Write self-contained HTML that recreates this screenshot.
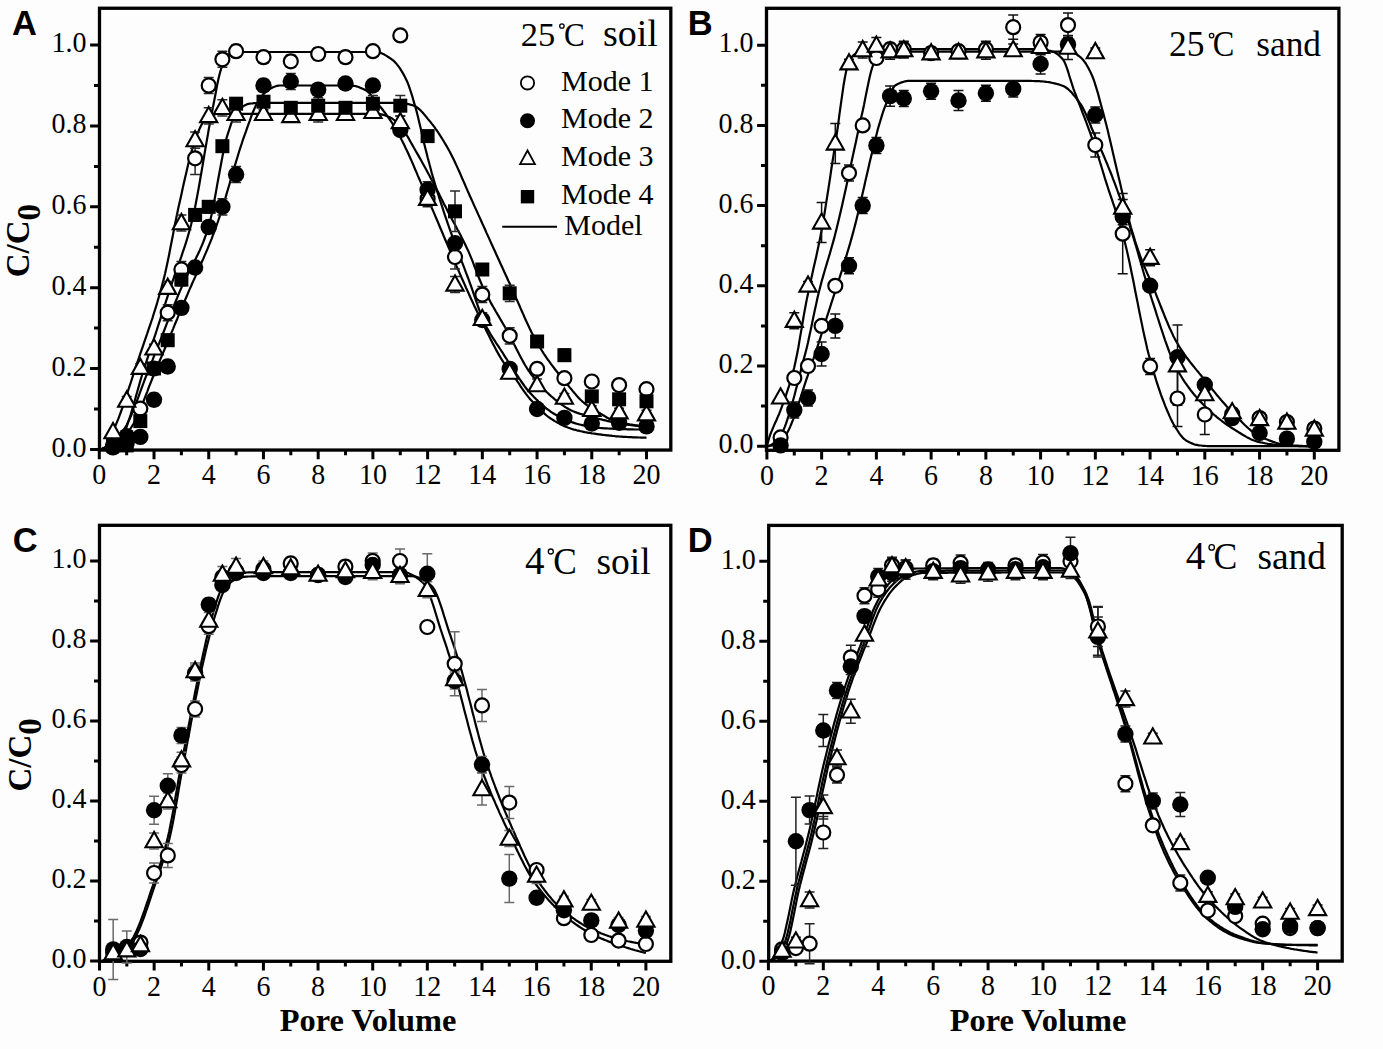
<!DOCTYPE html>
<html><head><meta charset="utf-8"><title>Breakthrough curves</title>
<style>html,body{margin:0;padding:0;background:#fdfdfd;}svg{display:block;}</style></head>
<body><svg width="1383" height="1049" viewBox="0 0 1383 1049">
<rect width="1383" height="1049" fill="#fdfdfd"/>
<rect x="99.50" y="8.25" width="571.30" height="441.80" fill="none" stroke="#000" stroke-width="3.3"/>
<path d="M99.30 450.05V459.25M126.66 450.05V455.15M154.02 450.05V459.25M181.38 450.05V455.15M208.74 450.05V459.25M236.10 450.05V455.15M263.46 450.05V459.25M290.82 450.05V455.15M318.18 450.05V459.25M345.54 450.05V455.15M372.90 450.05V459.25M400.26 450.05V455.15M427.62 450.05V459.25M454.98 450.05V455.15M482.34 450.05V459.25M509.70 450.05V455.15M537.06 450.05V459.25M564.42 450.05V455.15M591.78 450.05V459.25M619.14 450.05V455.15M646.50 450.05V459.25M99.50 449.40H90.10M99.50 408.97H94.00M99.50 368.54H90.10M99.50 328.11H94.00M99.50 287.68H90.10M99.50 247.25H94.00M99.50 206.82H90.10M99.50 166.39H94.00M99.50 125.96H90.10M99.50 85.53H94.00M99.50 45.10H90.10" stroke="#000" stroke-width="3" fill="none"/>
<g font-family='"Liberation Serif", serif' font-size="29.8" fill="#000"><text transform="translate(99.3 484.4) scale(0.94 1)" text-anchor="middle">0</text><text transform="translate(154.0 484.4) scale(0.94 1)" text-anchor="middle">2</text><text transform="translate(208.7 484.4) scale(0.94 1)" text-anchor="middle">4</text><text transform="translate(263.5 484.4) scale(0.94 1)" text-anchor="middle">6</text><text transform="translate(318.2 484.4) scale(0.94 1)" text-anchor="middle">8</text><text transform="translate(372.9 484.4) scale(0.94 1)" text-anchor="middle">10</text><text transform="translate(427.6 484.4) scale(0.94 1)" text-anchor="middle">12</text><text transform="translate(482.3 484.4) scale(0.94 1)" text-anchor="middle">14</text><text transform="translate(537.1 484.4) scale(0.94 1)" text-anchor="middle">16</text><text transform="translate(591.8 484.4) scale(0.94 1)" text-anchor="middle">18</text><text transform="translate(646.5 484.4) scale(0.94 1)" text-anchor="middle">20</text><text transform="translate(86.5 456.6) scale(0.94 1)" text-anchor="end">0.0</text><text transform="translate(86.5 375.7) scale(0.94 1)" text-anchor="end">0.2</text><text transform="translate(86.5 294.9) scale(0.94 1)" text-anchor="end">0.4</text><text transform="translate(86.5 214.0) scale(0.94 1)" text-anchor="end">0.6</text><text transform="translate(86.5 133.2) scale(0.94 1)" text-anchor="end">0.8</text><text transform="translate(86.5 52.3) scale(0.94 1)" text-anchor="end">1.0</text></g>
<g stroke="#000" stroke-width="2.2" fill="none" stroke-linejoin="round"><path d="M99.3 449.4 L100.7 449.3 L102.0 449.2 L103.4 448.9 L104.8 448.6 L106.1 448.2 L107.5 447.6 L108.9 447.0 L110.2 446.4 L111.6 445.7 L113.0 444.9 L114.3 444.1 L115.7 443.2 L117.1 442.3 L118.5 441.3 L119.8 440.1 L121.2 438.3 L122.6 436.0 L123.9 433.2 L125.3 430.1 L126.7 426.6 L128.0 422.7 L129.4 418.6 L130.8 414.3 L132.1 409.7 L133.5 405.0 L134.9 400.2 L136.2 395.4 L137.6 390.5 L139.0 385.6 L140.3 380.9 L141.7 376.2 L143.1 371.7 L144.4 367.4 L145.8 363.3 L147.2 359.2 L148.5 355.1 L149.9 351.0 L151.3 346.8 L152.7 342.7 L154.0 338.5 L155.4 334.3 L156.8 330.0 L158.1 325.8 L159.5 321.6 L160.9 317.3 L162.2 313.1 L163.6 308.8 L165.0 304.6 L166.3 300.3 L167.7 296.1 L169.1 291.9 L170.4 287.7 L171.8 283.6 L173.2 279.5 L174.5 275.6 L175.9 271.8 L177.3 268.0 L178.6 264.1 L180.0 260.3 L181.4 256.4 L182.7 252.4 L184.1 248.3 L185.5 244.1 L186.9 239.7 L188.2 235.1 L189.6 230.2 L191.0 225.1 L192.3 219.7 L193.7 213.7 L195.1 207.2 L196.4 200.2 L197.8 192.9 L199.2 185.3 L200.5 177.5 L201.9 169.5 L203.3 161.4 L204.6 153.3 L206.0 145.3 L207.4 137.4 L208.7 129.6 L210.1 122.1 L211.5 115.0 L212.8 108.0 L214.2 100.8 L215.6 93.5 L216.9 86.3 L218.3 79.6 L219.7 73.7 L221.1 68.9 L222.4 65.2 L223.8 61.8 L225.2 58.9 L226.5 56.6 L227.9 55.2 L229.3 54.3 L230.6 53.5 L232.0 52.9 L233.4 52.4 L234.7 52.1 L236.1 52.0 L237.5 52.0 L238.8 52.0 L240.2 52.0 L241.6 52.0 L242.9 52.0 L244.3 52.0 L245.7 52.0 L247.0 52.0 L248.4 52.0 L249.8 52.0 L251.1 52.0 L252.5 52.0 L253.9 52.0 L255.3 52.0 L256.6 52.0 L258.0 52.0 L259.4 52.0 L260.7 52.0 L262.1 52.0 L263.5 52.0 L264.8 52.0 L266.2 52.0 L267.6 52.0 L268.9 52.0 L270.3 52.0 L271.7 52.0 L273.0 52.0 L274.4 52.0 L275.8 52.0 L277.1 52.0 L278.5 52.0 L279.9 52.0 L281.2 52.0 L282.6 52.0 L284.0 52.0 L285.3 52.0 L286.7 52.0 L288.1 52.0 L289.5 52.0 L290.8 52.0 L292.2 52.0 L293.6 52.0 L294.9 52.0 L296.3 52.0 L297.7 52.0 L299.0 52.0 L300.4 52.0 L301.8 52.0 L303.1 52.0 L304.5 52.0 L305.9 52.0 L307.2 52.0 L308.6 52.0 L310.0 52.0 L311.3 52.0 L312.7 52.0 L314.1 52.0 L315.4 52.0 L316.8 52.0 L318.2 52.0 L319.5 52.0 L320.9 52.0 L322.3 52.0 L323.7 52.0 L325.0 52.0 L326.4 52.0 L327.8 52.0 L329.1 52.0 L330.5 52.0 L331.9 52.0 L333.2 52.0 L334.6 52.0 L336.0 52.0 L337.3 52.0 L338.7 52.0 L340.1 52.0 L341.4 52.0 L342.8 52.0 L344.2 52.0 L345.5 52.0 L346.9 52.0 L348.3 52.0 L349.6 52.0 L351.0 52.0 L352.4 52.0 L353.7 52.0 L355.1 52.0 L356.5 52.0 L357.9 52.0 L359.2 52.0 L360.6 52.0 L362.0 52.0 L363.3 52.0 L364.7 52.0 L366.1 52.0 L367.4 52.0 L368.8 52.0 L370.2 52.0 L371.5 52.0 L372.9 52.0 L374.3 52.0 L375.6 52.0 L377.0 52.0 L378.4 52.3 L379.7 52.6 L381.1 53.1 L382.5 53.7 L383.8 54.3 L385.2 55.1 L386.6 55.9 L387.9 56.8 L389.3 57.7 L390.7 58.7 L392.1 59.7 L393.4 60.7 L394.8 61.9 L396.2 63.4 L397.5 65.1 L398.9 66.9 L400.3 68.9 L401.6 71.1 L403.0 73.4 L404.4 75.9 L405.7 78.5 L407.1 81.4 L408.5 84.8 L409.8 88.7 L411.2 92.9 L412.6 97.4 L413.9 102.1 L415.3 106.8 L416.7 111.7 L418.0 117.1 L419.4 122.9 L420.8 128.8 L422.1 134.8 L423.5 140.8 L424.9 146.5 L426.3 152.0 L427.6 157.3 L429.0 162.5 L430.4 167.7 L431.7 172.7 L433.1 177.6 L434.5 182.3 L435.8 186.8 L437.2 191.3 L438.6 195.7 L439.9 200.0 L441.3 204.2 L442.7 208.4 L444.0 212.5 L445.4 216.6 L446.8 220.6 L448.1 224.5 L449.5 228.5 L450.9 232.4 L452.2 236.2 L453.6 240.0 L455.0 243.7 L456.3 247.4 L457.7 251.0 L459.1 254.6 L460.5 258.2 L461.8 261.7 L463.2 265.2 L464.6 268.8 L465.9 272.4 L467.3 276.0 L468.7 279.6 L470.0 283.3 L471.4 287.2 L472.8 291.2 L474.1 295.1 L475.5 299.2 L476.9 303.1 L478.2 307.0 L479.6 310.8 L481.0 314.5 L482.3 317.9 L483.7 321.1 L485.1 324.1 L486.4 326.8 L487.8 329.4 L489.2 331.8 L490.5 334.1 L491.9 336.4 L493.3 338.6 L494.7 340.7 L496.0 342.8 L497.4 344.8 L498.8 346.9 L500.1 349.0 L501.5 351.1 L502.9 353.2 L504.2 355.4 L505.6 357.6 L507.0 359.7 L508.3 361.9 L509.7 364.0 L511.1 366.1 L512.4 368.1 L513.8 370.2 L515.2 372.2 L516.5 374.3 L517.9 376.4 L519.3 378.5 L520.6 380.5 L522.0 382.5 L523.4 384.5 L524.7 386.4 L526.1 388.2 L527.5 390.0 L528.9 391.6 L530.2 393.1 L531.6 394.5 L533.0 396.0 L534.3 397.4 L535.7 398.8 L537.1 400.1 L538.4 401.5 L539.8 402.7 L541.2 404.0 L542.5 405.2 L543.9 406.4 L545.3 407.5 L546.6 408.6 L548.0 409.7 L549.4 410.7 L550.7 411.7 L552.1 412.6 L553.5 413.5 L554.8 414.3 L556.2 415.0 L557.6 415.8 L558.9 416.5 L560.3 417.2 L561.7 417.8 L563.1 418.5 L564.4 419.1 L565.8 419.7 L567.2 420.3 L568.5 420.9 L569.9 421.4 L571.3 422.0 L572.6 422.4 L574.0 422.9 L575.4 423.4 L576.7 423.8 L578.1 424.2 L579.5 424.5 L580.8 424.8 L582.2 425.1 L583.6 425.4 L584.9 425.7 L586.3 425.9 L587.7 426.2 L589.0 426.4 L590.4 426.7 L591.8 426.9 L593.1 427.1 L594.5 427.3 L595.9 427.5 L597.3 427.7 L598.6 427.8 L600.0 428.0 L601.4 428.1 L602.7 428.2 L604.1 428.3 L605.5 428.4 L606.8 428.4 L608.2 428.5 L609.6 428.6 L610.9 428.6 L612.3 428.7 L613.7 428.8 L615.0 428.8 L616.4 428.9 L617.8 429.0 L619.1 429.0 L620.5 429.1 L621.9 429.1 L623.2 429.2 L624.6 429.2 L626.0 429.2 L627.3 429.3 L628.7 429.3 L630.1 429.4 L631.5 429.4 L632.8 429.4 L634.2 429.5 L635.6 429.5 L636.9 429.5 L638.3 429.5 L639.7 429.5 L641.0 429.6 L642.4 429.6 L643.8 429.6 L645.1 429.6 L646.5 429.6"/><path d="M99.3 449.4 L100.7 449.3 L102.0 449.2 L103.4 448.9 L104.8 448.5 L106.1 448.1 L107.5 447.5 L108.9 446.8 L110.2 446.1 L111.6 445.3 L113.0 444.5 L114.3 443.5 L115.7 442.5 L117.1 441.5 L118.5 440.4 L119.8 439.3 L121.2 438.1 L122.6 436.9 L123.9 435.7 L125.3 434.5 L126.7 433.2 L128.0 431.8 L129.4 430.1 L130.8 428.2 L132.1 426.0 L133.5 423.7 L134.9 421.1 L136.2 418.3 L137.6 415.3 L139.0 412.3 L140.3 409.1 L141.7 405.7 L143.1 402.3 L144.4 398.9 L145.8 395.3 L147.2 391.8 L148.5 388.2 L149.9 384.6 L151.3 381.1 L152.7 377.5 L154.0 374.1 L155.4 370.7 L156.8 367.4 L158.1 364.3 L159.5 361.1 L160.9 358.0 L162.2 354.8 L163.6 351.6 L165.0 348.3 L166.3 345.1 L167.7 341.8 L169.1 338.5 L170.4 335.2 L171.8 331.9 L173.2 328.6 L174.5 325.3 L175.9 322.0 L177.3 318.7 L178.6 315.4 L180.0 312.1 L181.4 308.8 L182.7 305.5 L184.1 302.3 L185.5 299.0 L186.9 295.8 L188.2 292.6 L189.6 289.4 L191.0 286.3 L192.3 283.2 L193.7 280.1 L195.1 277.1 L196.4 274.0 L197.8 271.0 L199.2 268.0 L200.5 264.9 L201.9 261.8 L203.3 258.7 L204.6 255.6 L206.0 252.4 L207.4 249.2 L208.7 245.9 L210.1 242.6 L211.5 239.1 L212.8 235.6 L214.2 232.1 L215.6 228.4 L216.9 224.5 L218.3 220.5 L219.7 216.4 L221.1 212.1 L222.4 207.7 L223.8 203.3 L225.2 198.7 L226.5 194.1 L227.9 189.5 L229.3 184.8 L230.6 180.1 L232.0 175.4 L233.4 170.7 L234.7 166.1 L236.1 161.5 L237.5 157.0 L238.8 152.5 L240.2 148.2 L241.6 144.0 L242.9 139.9 L244.3 135.9 L245.7 132.1 L247.0 128.3 L248.4 124.4 L249.8 120.6 L251.1 116.8 L252.5 113.2 L253.9 109.9 L255.3 106.8 L256.6 104.0 L258.0 101.7 L259.4 99.6 L260.7 97.7 L262.1 95.8 L263.5 94.2 L264.8 92.7 L266.2 91.4 L267.6 90.3 L268.9 89.4 L270.3 88.7 L271.7 87.9 L273.0 87.3 L274.4 86.7 L275.8 86.2 L277.1 85.8 L278.5 85.6 L279.9 85.5 L281.2 85.5 L282.6 85.5 L284.0 85.5 L285.3 85.5 L286.7 85.5 L288.1 85.5 L289.5 85.5 L290.8 85.5 L292.2 85.5 L293.6 85.5 L294.9 85.5 L296.3 85.5 L297.7 85.5 L299.0 85.5 L300.4 85.5 L301.8 85.5 L303.1 85.5 L304.5 85.5 L305.9 85.5 L307.2 85.5 L308.6 85.5 L310.0 85.5 L311.3 85.5 L312.7 85.5 L314.1 85.5 L315.4 85.5 L316.8 85.5 L318.2 85.5 L319.5 85.5 L320.9 85.5 L322.3 85.5 L323.7 85.5 L325.0 85.5 L326.4 85.5 L327.8 85.5 L329.1 85.5 L330.5 85.5 L331.9 85.5 L333.2 85.5 L334.6 85.5 L336.0 85.5 L337.3 85.5 L338.7 85.5 L340.1 85.5 L341.4 85.5 L342.8 85.5 L344.2 85.5 L345.5 85.5 L346.9 85.5 L348.3 85.5 L349.6 85.5 L351.0 85.5 L352.4 85.6 L353.7 85.8 L355.1 86.0 L356.5 86.4 L357.9 86.8 L359.2 87.3 L360.6 87.9 L362.0 88.5 L363.3 89.1 L364.7 89.8 L366.1 90.5 L367.4 91.5 L368.8 92.6 L370.2 94.1 L371.5 95.6 L372.9 97.3 L374.3 99.1 L375.6 100.9 L377.0 102.6 L378.4 104.3 L379.7 106.0 L381.1 107.7 L382.5 109.5 L383.8 111.3 L385.2 113.1 L386.6 115.0 L387.9 116.9 L389.3 118.9 L390.7 120.9 L392.1 123.0 L393.4 125.1 L394.8 127.3 L396.2 129.5 L397.5 131.9 L398.9 134.4 L400.3 137.0 L401.6 139.7 L403.0 142.4 L404.4 145.3 L405.7 148.2 L407.1 151.1 L408.5 154.0 L409.8 157.0 L411.2 160.1 L412.6 163.2 L413.9 166.4 L415.3 169.7 L416.7 172.9 L418.0 176.1 L419.4 179.3 L420.8 182.4 L422.1 185.6 L423.5 188.7 L424.9 191.9 L426.3 195.0 L427.6 198.2 L429.0 201.3 L430.4 204.5 L431.7 207.7 L433.1 210.9 L434.5 214.1 L435.8 217.3 L437.2 220.5 L438.6 223.8 L439.9 227.0 L441.3 230.3 L442.7 233.5 L444.0 236.8 L445.4 240.0 L446.8 243.2 L448.1 246.4 L449.5 249.6 L450.9 252.8 L452.2 256.0 L453.6 259.2 L455.0 262.4 L456.3 265.6 L457.7 268.8 L459.1 271.9 L460.5 275.1 L461.8 278.2 L463.2 281.3 L464.6 284.4 L465.9 287.5 L467.3 290.5 L468.7 293.5 L470.0 296.5 L471.4 299.5 L472.8 302.5 L474.1 305.4 L475.5 308.3 L476.9 311.2 L478.2 314.1 L479.6 317.0 L481.0 319.8 L482.3 322.6 L483.7 325.4 L485.1 328.1 L486.4 330.8 L487.8 333.6 L489.2 336.3 L490.5 339.0 L491.9 341.7 L493.3 344.4 L494.7 347.0 L496.0 349.6 L497.4 352.1 L498.8 354.6 L500.1 356.9 L501.5 359.2 L502.9 361.3 L504.2 363.3 L505.6 365.2 L507.0 367.0 L508.3 368.8 L509.7 370.6 L511.1 372.4 L512.4 374.2 L513.8 376.1 L515.2 378.1 L516.5 380.1 L517.9 382.2 L519.3 384.2 L520.6 386.3 L522.0 388.3 L523.4 390.3 L524.7 392.2 L526.1 394.1 L527.5 395.9 L528.9 397.6 L530.2 399.2 L531.6 400.7 L533.0 402.2 L534.3 403.7 L535.7 405.2 L537.1 406.6 L538.4 408.0 L539.8 409.4 L541.2 410.7 L542.5 412.0 L543.9 413.2 L545.3 414.4 L546.6 415.5 L548.0 416.6 L549.4 417.6 L550.7 418.5 L552.1 419.4 L553.5 420.3 L554.8 421.1 L556.2 421.9 L557.6 422.7 L558.9 423.4 L560.3 424.2 L561.7 424.9 L563.1 425.5 L564.4 426.2 L565.8 426.8 L567.2 427.3 L568.5 427.8 L569.9 428.3 L571.3 428.8 L572.6 429.2 L574.0 429.6 L575.4 429.9 L576.7 430.3 L578.1 430.6 L579.5 430.9 L580.8 431.2 L582.2 431.5 L583.6 431.8 L584.9 432.1 L586.3 432.3 L587.7 432.6 L589.0 432.8 L590.4 433.0 L591.8 433.3 L593.1 433.5 L594.5 433.7 L595.9 433.9 L597.3 434.1 L598.6 434.3 L600.0 434.4 L601.4 434.6 L602.7 434.8 L604.1 435.0 L605.5 435.1 L606.8 435.3 L608.2 435.4 L609.6 435.6 L610.9 435.7 L612.3 435.9 L613.7 436.0 L615.0 436.2 L616.4 436.3 L617.8 436.4 L619.1 436.5 L620.5 436.6 L621.9 436.7 L623.2 436.8 L624.6 436.9 L626.0 436.9 L627.3 437.0 L628.7 437.1 L630.1 437.1 L631.5 437.2 L632.8 437.3 L634.2 437.3 L635.6 437.4 L636.9 437.4 L638.3 437.5 L639.7 437.5 L641.0 437.6 L642.4 437.6 L643.8 437.6 L645.1 437.7 L646.5 437.7"/><path d="M99.3 449.4 L100.7 449.2 L102.0 448.8 L103.4 448.1 L104.8 447.4 L106.1 446.2 L107.5 444.2 L108.9 441.7 L110.2 438.7 L111.6 435.4 L113.0 431.9 L114.3 428.5 L115.7 425.1 L117.1 421.8 L118.5 418.4 L119.8 414.8 L121.2 411.0 L122.6 407.2 L123.9 403.2 L125.3 399.2 L126.7 395.1 L128.0 390.9 L129.4 386.7 L130.8 382.5 L132.1 378.3 L133.5 374.1 L134.9 369.9 L136.2 365.7 L137.6 361.6 L139.0 357.6 L140.3 353.6 L141.7 349.6 L143.1 345.6 L144.4 341.7 L145.8 337.7 L147.2 333.7 L148.5 329.7 L149.9 325.6 L151.3 321.5 L152.7 317.3 L154.0 313.0 L155.4 308.6 L156.8 304.2 L158.1 299.5 L159.5 294.8 L160.9 289.9 L162.2 284.8 L163.6 279.6 L165.0 274.0 L166.3 267.9 L167.7 261.5 L169.1 254.7 L170.4 247.7 L171.8 240.7 L173.2 233.6 L174.5 226.5 L175.9 219.7 L177.3 213.1 L178.6 206.8 L180.0 200.7 L181.4 194.5 L182.7 188.3 L184.1 182.1 L185.5 176.1 L186.9 170.1 L188.2 164.3 L189.6 158.8 L191.0 153.5 L192.3 148.6 L193.7 144.2 L195.1 140.1 L196.4 136.4 L197.8 132.9 L199.2 129.6 L200.5 126.7 L201.9 124.1 L203.3 121.9 L204.6 119.9 L206.0 118.1 L207.4 116.7 L208.7 115.9 L210.1 115.4 L211.5 115.0 L212.8 114.7 L214.2 114.4 L215.6 114.1 L216.9 114.0 L218.3 113.9 L219.7 113.8 L221.1 113.8 L222.4 113.8 L223.8 113.8 L225.2 113.8 L226.5 113.8 L227.9 113.8 L229.3 113.8 L230.6 113.8 L232.0 113.8 L233.4 113.8 L234.7 113.8 L236.1 113.8 L237.5 113.8 L238.8 113.8 L240.2 113.8 L241.6 113.8 L242.9 113.8 L244.3 113.8 L245.7 113.8 L247.0 113.8 L248.4 113.8 L249.8 113.8 L251.1 113.8 L252.5 113.8 L253.9 113.8 L255.3 113.8 L256.6 113.8 L258.0 113.8 L259.4 113.8 L260.7 113.8 L262.1 113.8 L263.5 113.8 L264.8 113.8 L266.2 113.8 L267.6 113.8 L268.9 113.8 L270.3 113.8 L271.7 113.8 L273.0 113.8 L274.4 113.8 L275.8 113.8 L277.1 113.8 L278.5 113.8 L279.9 113.8 L281.2 113.8 L282.6 113.8 L284.0 113.8 L285.3 113.8 L286.7 113.8 L288.1 113.8 L289.5 113.8 L290.8 113.8 L292.2 113.8 L293.6 113.8 L294.9 113.8 L296.3 113.8 L297.7 113.8 L299.0 113.8 L300.4 113.8 L301.8 113.8 L303.1 113.8 L304.5 113.8 L305.9 113.8 L307.2 113.8 L308.6 113.8 L310.0 113.8 L311.3 113.8 L312.7 113.8 L314.1 113.8 L315.4 113.8 L316.8 113.8 L318.2 113.8 L319.5 113.8 L320.9 113.8 L322.3 113.8 L323.7 113.8 L325.0 113.8 L326.4 113.8 L327.8 113.8 L329.1 113.8 L330.5 113.8 L331.9 113.8 L333.2 113.8 L334.6 113.8 L336.0 113.8 L337.3 113.8 L338.7 113.8 L340.1 113.8 L341.4 113.8 L342.8 113.8 L344.2 113.8 L345.5 113.8 L346.9 113.8 L348.3 113.8 L349.6 113.8 L351.0 113.8 L352.4 113.8 L353.7 113.8 L355.1 113.8 L356.5 113.8 L357.9 113.8 L359.2 113.8 L360.6 113.8 L362.0 113.8 L363.3 113.8 L364.7 113.8 L366.1 113.8 L367.4 113.8 L368.8 113.8 L370.2 113.8 L371.5 113.8 L372.9 113.8 L374.3 113.8 L375.6 113.8 L377.0 113.8 L378.4 113.9 L379.7 114.0 L381.1 114.3 L382.5 114.6 L383.8 115.0 L385.2 115.5 L386.6 116.0 L387.9 116.5 L389.3 117.1 L390.7 117.7 L392.1 118.5 L393.4 119.5 L394.8 120.6 L396.2 121.8 L397.5 123.1 L398.9 124.5 L400.3 126.0 L401.6 127.5 L403.0 129.3 L404.4 131.3 L405.7 133.4 L407.1 135.7 L408.5 138.1 L409.8 140.5 L411.2 143.0 L412.6 145.4 L413.9 147.8 L415.3 150.2 L416.7 152.6 L418.0 154.9 L419.4 157.4 L420.8 159.8 L422.1 162.2 L423.5 164.7 L424.9 167.2 L426.3 169.7 L427.6 172.3 L429.0 174.8 L430.4 177.4 L431.7 179.9 L433.1 182.5 L434.5 185.1 L435.8 187.7 L437.2 190.4 L438.6 193.0 L439.9 195.7 L441.3 198.4 L442.7 201.2 L444.0 203.9 L445.4 206.6 L446.8 209.3 L448.1 211.9 L449.5 214.6 L450.9 217.1 L452.2 219.7 L453.6 222.3 L455.0 224.8 L456.3 227.3 L457.7 229.9 L459.1 232.5 L460.5 235.1 L461.8 237.7 L463.2 240.4 L464.6 243.2 L465.9 246.0 L467.3 248.9 L468.7 251.9 L470.0 255.1 L471.4 258.4 L472.8 261.9 L474.1 265.4 L475.5 269.0 L476.9 272.6 L478.2 276.1 L479.6 279.5 L481.0 282.8 L482.3 285.9 L483.7 288.8 L485.1 291.6 L486.4 294.3 L487.8 297.0 L489.2 299.6 L490.5 302.1 L491.9 304.6 L493.3 307.0 L494.7 309.4 L496.0 311.8 L497.4 314.1 L498.8 316.4 L500.1 318.8 L501.5 321.1 L502.9 323.5 L504.2 325.8 L505.6 328.2 L507.0 330.7 L508.3 333.2 L509.7 335.7 L511.1 338.3 L512.4 341.0 L513.8 343.7 L515.2 346.4 L516.5 349.1 L517.9 351.8 L519.3 354.4 L520.6 357.0 L522.0 359.6 L523.4 362.1 L524.7 364.5 L526.1 366.8 L527.5 369.0 L528.9 371.0 L530.2 373.0 L531.6 374.8 L533.0 376.6 L534.3 378.3 L535.7 380.0 L537.1 381.7 L538.4 383.3 L539.8 384.8 L541.2 386.4 L542.5 387.8 L543.9 389.3 L545.3 390.7 L546.6 392.0 L548.0 393.3 L549.4 394.6 L550.7 395.8 L552.1 397.0 L553.5 398.2 L554.8 399.3 L556.2 400.4 L557.6 401.5 L558.9 402.5 L560.3 403.6 L561.7 404.6 L563.1 405.5 L564.4 406.5 L565.8 407.4 L567.2 408.2 L568.5 409.0 L569.9 409.7 L571.3 410.4 L572.6 411.0 L574.0 411.6 L575.4 412.1 L576.7 412.6 L578.1 413.1 L579.5 413.6 L580.8 414.0 L582.2 414.4 L583.6 414.8 L584.9 415.2 L586.3 415.6 L587.7 416.0 L589.0 416.4 L590.4 416.7 L591.8 417.1 L593.1 417.4 L594.5 417.7 L595.9 418.1 L597.3 418.4 L598.6 418.7 L600.0 419.1 L601.4 419.4 L602.7 419.8 L604.1 420.1 L605.5 420.4 L606.8 420.8 L608.2 421.1 L609.6 421.4 L610.9 421.8 L612.3 422.1 L613.7 422.4 L615.0 422.7 L616.4 423.0 L617.8 423.2 L619.1 423.5 L620.5 423.7 L621.9 423.9 L623.2 424.1 L624.6 424.3 L626.0 424.5 L627.3 424.7 L628.7 424.8 L630.1 425.0 L631.5 425.2 L632.8 425.3 L634.2 425.5 L635.6 425.6 L636.9 425.7 L638.3 425.8 L639.7 426.0 L641.0 426.1 L642.4 426.2 L643.8 426.2 L645.1 426.3 L646.5 426.4"/><path d="M99.3 449.4 L100.7 449.2 L102.0 448.9 L103.4 448.4 L104.8 447.8 L106.1 447.1 L107.5 446.2 L108.9 445.2 L110.2 444.2 L111.6 443.0 L113.0 441.7 L114.3 440.4 L115.7 439.1 L117.1 437.7 L118.5 436.2 L119.8 434.7 L121.2 433.2 L122.6 431.6 L123.9 429.6 L125.3 427.4 L126.7 425.0 L128.0 422.3 L129.4 419.5 L130.8 416.4 L132.1 413.2 L133.5 409.8 L134.9 406.4 L136.2 402.8 L137.6 399.2 L139.0 395.4 L140.3 391.7 L141.7 387.9 L143.1 384.2 L144.4 380.5 L145.8 376.8 L147.2 373.2 L148.5 369.6 L149.9 366.2 L151.3 362.9 L152.7 359.6 L154.0 356.2 L155.4 352.8 L156.8 349.4 L158.1 345.9 L159.5 342.4 L160.9 338.9 L162.2 335.5 L163.6 332.0 L165.0 328.4 L166.3 324.9 L167.7 321.4 L169.1 318.0 L170.4 314.5 L171.8 311.0 L173.2 307.6 L174.5 304.2 L175.9 300.8 L177.3 297.5 L178.6 294.2 L180.0 290.9 L181.4 287.7 L182.7 284.6 L184.1 281.6 L185.5 278.7 L186.9 275.9 L188.2 273.2 L189.6 270.6 L191.0 268.0 L192.3 265.4 L193.7 262.7 L195.1 260.1 L196.4 257.3 L197.8 254.5 L199.2 251.6 L200.5 248.6 L201.9 245.4 L203.3 242.0 L204.6 238.5 L206.0 234.7 L207.4 230.7 L208.7 226.2 L210.1 220.9 L211.5 215.0 L212.8 208.4 L214.2 201.4 L215.6 194.0 L216.9 186.4 L218.3 178.8 L219.7 171.2 L221.1 163.8 L222.4 156.7 L223.8 150.0 L225.2 143.8 L226.5 138.3 L227.9 133.6 L229.3 129.4 L230.6 125.3 L232.0 121.4 L233.4 118.0 L234.7 115.1 L236.1 112.9 L237.5 111.3 L238.8 110.0 L240.2 108.7 L241.6 107.6 L242.9 106.5 L244.3 105.6 L245.7 104.9 L247.0 104.3 L248.4 103.9 L249.8 103.7 L251.1 103.5 L252.5 103.4 L253.9 103.2 L255.3 103.1 L256.6 103.0 L258.0 103.0 L259.4 102.9 L260.7 102.9 L262.1 102.9 L263.5 102.9 L264.8 102.9 L266.2 102.9 L267.6 102.9 L268.9 102.9 L270.3 102.9 L271.7 102.9 L273.0 102.9 L274.4 102.9 L275.8 102.9 L277.1 102.9 L278.5 102.9 L279.9 102.9 L281.2 102.9 L282.6 102.9 L284.0 102.9 L285.3 102.9 L286.7 102.9 L288.1 102.9 L289.5 102.9 L290.8 102.9 L292.2 102.9 L293.6 102.9 L294.9 102.9 L296.3 102.9 L297.7 102.9 L299.0 102.9 L300.4 102.9 L301.8 102.9 L303.1 102.9 L304.5 102.9 L305.9 102.9 L307.2 102.9 L308.6 102.9 L310.0 102.9 L311.3 102.9 L312.7 102.9 L314.1 102.9 L315.4 102.9 L316.8 102.9 L318.2 102.9 L319.5 102.9 L320.9 102.9 L322.3 102.9 L323.7 102.9 L325.0 102.9 L326.4 102.9 L327.8 102.9 L329.1 102.9 L330.5 102.9 L331.9 102.9 L333.2 102.9 L334.6 102.9 L336.0 102.9 L337.3 102.9 L338.7 102.9 L340.1 102.9 L341.4 102.9 L342.8 102.9 L344.2 102.9 L345.5 102.9 L346.9 102.9 L348.3 102.9 L349.6 102.9 L351.0 102.9 L352.4 102.9 L353.7 102.9 L355.1 102.9 L356.5 102.9 L357.9 102.9 L359.2 102.9 L360.6 102.9 L362.0 102.9 L363.3 102.9 L364.7 102.9 L366.1 102.9 L367.4 102.9 L368.8 102.9 L370.2 102.9 L371.5 102.9 L372.9 102.9 L374.3 102.9 L375.6 102.9 L377.0 102.9 L378.4 102.9 L379.7 102.9 L381.1 102.9 L382.5 102.9 L383.8 102.9 L385.2 102.9 L386.6 102.9 L387.9 102.9 L389.3 102.9 L390.7 102.9 L392.1 102.9 L393.4 102.9 L394.8 102.9 L396.2 102.9 L397.5 102.9 L398.9 102.9 L400.3 102.9 L401.6 103.0 L403.0 103.1 L404.4 103.2 L405.7 103.5 L407.1 103.8 L408.5 104.1 L409.8 104.5 L411.2 104.9 L412.6 105.3 L413.9 105.7 L415.3 106.3 L416.7 107.1 L418.0 108.1 L419.4 109.3 L420.8 110.6 L422.1 112.1 L423.5 113.6 L424.9 115.2 L426.3 116.9 L427.6 118.6 L429.0 120.3 L430.4 121.9 L431.7 123.6 L433.1 125.3 L434.5 127.2 L435.8 129.1 L437.2 131.0 L438.6 133.1 L439.9 135.1 L441.3 137.3 L442.7 139.5 L444.0 141.8 L445.4 144.1 L446.8 146.4 L448.1 148.8 L449.5 151.3 L450.9 153.9 L452.2 156.5 L453.6 159.3 L455.0 162.2 L456.3 165.1 L457.7 168.1 L459.1 171.2 L460.5 174.3 L461.8 177.5 L463.2 180.6 L464.6 183.8 L465.9 186.9 L467.3 190.1 L468.7 193.2 L470.0 196.3 L471.4 199.3 L472.8 202.4 L474.1 205.4 L475.5 208.4 L476.9 211.4 L478.2 214.4 L479.6 217.4 L481.0 220.5 L482.3 223.5 L483.7 226.5 L485.1 229.5 L486.4 232.6 L487.8 235.6 L489.2 238.6 L490.5 241.6 L491.9 244.7 L493.3 247.7 L494.7 250.7 L496.0 253.7 L497.4 256.7 L498.8 259.7 L500.1 262.7 L501.5 265.7 L502.9 268.7 L504.2 271.7 L505.6 274.7 L507.0 277.7 L508.3 280.7 L509.7 283.6 L511.1 286.6 L512.4 289.7 L513.8 292.7 L515.2 295.8 L516.5 299.0 L517.9 302.1 L519.3 305.3 L520.6 308.4 L522.0 311.5 L523.4 314.6 L524.7 317.7 L526.1 320.8 L527.5 323.7 L528.9 326.7 L530.2 329.6 L531.6 332.4 L533.0 335.1 L534.3 337.8 L535.7 340.3 L537.1 342.8 L538.4 345.1 L539.8 347.3 L541.2 349.5 L542.5 351.7 L543.9 353.8 L545.3 355.8 L546.6 357.8 L548.0 359.8 L549.4 361.7 L550.7 363.6 L552.1 365.4 L553.5 367.2 L554.8 369.0 L556.2 370.8 L557.6 372.5 L558.9 374.3 L560.3 376.0 L561.7 377.6 L563.1 379.3 L564.4 381.0 L565.8 382.6 L567.2 384.3 L568.5 385.9 L569.9 387.6 L571.3 389.2 L572.6 390.9 L574.0 392.5 L575.4 394.1 L576.7 395.7 L578.1 397.2 L579.5 398.7 L580.8 400.0 L582.2 401.3 L583.6 402.5 L584.9 403.6 L586.3 404.7 L587.7 405.7 L589.0 406.6 L590.4 407.5 L591.8 408.4 L593.1 409.3 L594.5 410.1 L595.9 410.9 L597.3 411.7 L598.6 412.5 L600.0 413.3 L601.4 414.1 L602.7 415.0 L604.1 415.8 L605.5 416.6 L606.8 417.5 L608.2 418.2 L609.6 419.0 L610.9 419.6 L612.3 420.2 L613.7 420.7 L615.0 421.1 L616.4 421.5 L617.8 421.9 L619.1 422.2 L620.5 422.6 L621.9 422.9 L623.2 423.2 L624.6 423.5 L626.0 423.7 L627.3 424.0 L628.7 424.2 L630.1 424.5 L631.5 424.7 L632.8 424.9 L634.2 425.1 L635.6 425.4 L636.9 425.6 L638.3 425.8 L639.7 426.0 L641.0 426.1 L642.4 426.3 L643.8 426.5 L645.1 426.6 L646.5 426.8"/></g>
<g stroke="#2a2a2a" stroke-width="1.5" fill="none"><path d="M140.3 404.5V412.6M135.3 404.5H145.3M135.3 412.6H145.3"/><path d="M167.7 304.7V320.8M162.7 304.7H172.7M162.7 320.8H172.7"/><path d="M181.4 261.4V277.6M176.4 261.4H186.4M176.4 277.6H186.4"/><path d="M195.1 142.1V174.5M190.1 142.1H200.1M190.1 174.5H200.1"/><path d="M208.7 77.4V93.6M203.7 77.4H213.7M203.7 93.6H213.7"/><path d="M222.4 51.2V67.3M217.4 51.2H227.4M217.4 67.3H227.4"/><path d="M236.1 45.1V57.2M231.1 45.1H241.1M231.1 57.2H241.1"/><path d="M263.5 51.2V63.3M258.5 51.2H268.5M258.5 63.3H268.5"/><path d="M290.8 55.2V67.3M285.8 55.2H295.8M285.8 67.3H295.8"/><path d="M318.2 47.9V60.1M313.2 47.9H323.2M313.2 60.1H323.2"/><path d="M345.5 51.2V63.3M340.5 51.2H350.5M340.5 63.3H350.5"/><path d="M372.9 47.1V55.2M367.9 47.1H377.9M367.9 55.2H377.9"/><path d="M427.6 192.7V204.8M422.6 192.7H432.6M422.6 204.8H432.6"/><path d="M455.0 244.8V269.1M450.0 244.8H460.0M450.0 269.1H460.0"/><path d="M482.3 286.5V302.6M477.3 286.5H487.3M477.3 302.6H487.3"/><path d="M509.7 327.7V343.9M504.7 327.7H514.7M504.7 343.9H514.7"/><path d="M537.1 362.9V375.0M532.1 362.9H542.1M532.1 375.0H542.1"/><path d="M564.4 374.2V382.3M559.4 374.2H569.4M559.4 382.3H569.4"/><path d="M591.8 377.4V385.5M586.8 377.4H596.8M586.8 385.5H596.8"/><path d="M619.1 383.1V387.1M614.1 383.1H624.1M614.1 387.1H624.1"/><path d="M646.5 387.1V391.2M641.5 387.1H651.5M641.5 391.2H651.5"/><path d="M140.3 432.8V440.9M135.3 432.8H145.3M135.3 440.9H145.3"/><path d="M154.0 393.6V405.7M149.0 393.6H159.0M149.0 405.7H159.0"/><path d="M167.7 360.5V372.6M162.7 360.5H172.7M162.7 372.6H172.7"/><path d="M181.4 301.8V314.0M176.4 301.8H186.4M176.4 314.0H186.4"/><path d="M195.1 261.4V273.5M190.1 261.4H200.1M190.1 273.5H200.1"/><path d="M208.7 221.0V233.1M203.7 221.0H213.7M203.7 233.1H213.7"/><path d="M222.4 198.7V214.9M217.4 198.7H227.4M217.4 214.9H227.4"/><path d="M236.1 166.4V182.6M231.1 166.4H241.1M231.1 182.6H241.1"/><path d="M263.5 79.5V91.6M258.5 79.5H268.5M258.5 91.6H268.5"/><path d="M290.8 73.4V89.6M285.8 73.4H295.8M285.8 89.6H295.8"/><path d="M318.2 85.5V93.6M313.2 85.5H323.2M313.2 93.6H323.2"/><path d="M345.5 79.5V87.6M340.5 79.5H350.5M340.5 87.6H350.5"/><path d="M372.9 81.5V89.6M367.9 81.5H377.9M367.9 89.6H377.9"/><path d="M400.3 126.0V134.0M395.3 126.0H405.3M395.3 134.0H405.3"/><path d="M427.6 181.8V197.9M422.6 181.8H432.6M422.6 197.9H432.6"/><path d="M455.0 239.2V247.2M450.0 239.2H460.0M450.0 247.2H460.0"/><path d="M482.3 316.0V324.1M477.3 316.0H487.3M477.3 324.1H487.3"/><path d="M509.7 364.9V373.0M504.7 364.9H514.7M504.7 373.0H514.7"/><path d="M537.1 406.9V411.0M532.1 406.9H542.1M532.1 411.0H542.1"/><path d="M564.4 415.8V419.9M559.4 415.8H569.4M559.4 419.9H569.4"/><path d="M591.8 421.5V425.5M586.8 421.5H596.8M586.8 425.5H596.8"/><path d="M619.1 420.7V424.7M614.1 420.7H624.1M614.1 424.7H624.1"/><path d="M646.5 424.3V428.4M641.5 424.3H651.5M641.5 428.4H651.5"/><path d="M126.7 396.4V404.5M121.7 396.4H131.7M121.7 404.5H131.7"/><path d="M140.3 363.7V371.8M135.3 363.7H145.3M135.3 371.8H145.3"/><path d="M154.0 344.3V352.4M149.0 344.3H159.0M149.0 352.4H159.0"/><path d="M167.7 281.6V293.7M162.7 281.6H172.7M162.7 293.7H172.7"/><path d="M181.4 214.9V231.1M176.4 214.9H186.4M176.4 231.1H186.4"/><path d="M195.1 132.0V148.2M190.1 132.0H200.1M190.1 148.2H200.1"/><path d="M208.7 107.8V123.9M203.7 107.8H213.7M203.7 123.9H213.7"/><path d="M222.4 99.7V115.9M217.4 99.7H227.4M217.4 115.9H227.4"/><path d="M236.1 105.7V121.9M231.1 105.7H241.1M231.1 121.9H241.1"/><path d="M263.5 109.8V117.9M258.5 109.8H268.5M258.5 117.9H268.5"/><path d="M290.8 111.8V119.9M285.8 111.8H295.8M285.8 119.9H295.8"/><path d="M318.2 105.7V121.9M313.2 105.7H323.2M313.2 121.9H323.2"/><path d="M345.5 109.8V117.9M340.5 109.8H350.5M340.5 117.9H350.5"/><path d="M372.9 107.8V115.9M367.9 107.8H377.9M367.9 115.9H377.9"/><path d="M400.3 115.9V128.0M395.3 115.9H405.3M395.3 128.0H405.3"/><path d="M427.6 190.6V206.8M422.6 190.6H432.6M422.6 206.8H432.6"/><path d="M455.0 276.4V292.5M450.0 276.4H460.0M450.0 292.5H460.0"/><path d="M482.3 312.7V324.9M477.3 312.7H487.3M477.3 324.9H487.3"/><path d="M509.7 366.5V378.6M504.7 366.5H514.7M504.7 378.6H514.7"/><path d="M537.1 379.1V391.2M532.1 379.1H542.1M532.1 391.2H542.1"/><path d="M564.4 393.6V401.7M559.4 393.6H569.4M559.4 401.7H569.4"/><path d="M591.8 405.7V413.8M586.8 405.7H596.8M586.8 413.8H596.8"/><path d="M619.1 408.2V416.2M614.1 408.2H624.1M614.1 416.2H624.1"/><path d="M646.5 410.2V418.3M641.5 410.2H651.5M641.5 418.3H651.5"/><path d="M140.3 417.1V425.1M135.3 417.1H145.3M135.3 425.1H145.3"/><path d="M154.0 364.5V372.6M149.0 364.5H159.0M149.0 372.6H159.0"/><path d="M167.7 334.2V346.3M162.7 334.2H172.7M162.7 346.3H172.7"/><path d="M181.4 273.5V285.7M176.4 273.5H186.4M176.4 285.7H186.4"/><path d="M195.1 208.8V221.0M190.1 208.8H200.1M190.1 221.0H200.1"/><path d="M208.7 200.8V212.9M203.7 200.8H213.7M203.7 212.9H213.7"/><path d="M236.1 99.7V107.8M231.1 99.7H241.1M231.1 107.8H241.1"/><path d="M263.5 97.7V105.7M258.5 97.7H268.5M258.5 105.7H268.5"/><path d="M290.8 103.7V111.8M285.8 103.7H295.8M285.8 111.8H295.8"/><path d="M318.2 97.7V113.8M313.2 97.7H323.2M313.2 113.8H323.2"/><path d="M345.5 103.7V111.8M340.5 103.7H350.5M340.5 111.8H350.5"/><path d="M372.9 95.6V111.8M367.9 95.6H377.9M367.9 111.8H377.9"/><path d="M400.3 95.6V115.9M395.3 95.6H405.3M395.3 115.9H405.3"/><path d="M455.0 191.1V231.5M450.0 191.1H460.0M450.0 231.5H460.0"/><path d="M482.3 265.4V273.5M477.3 265.4H487.3M477.3 273.5H487.3"/><path d="M509.7 285.3V301.4M504.7 285.3H514.7M504.7 301.4H514.7"/><path d="M537.1 339.4V343.5M532.1 339.4H542.1M532.1 343.5H542.1"/><path d="M564.4 349.1V361.3M559.4 349.1H569.4M559.4 361.3H569.4"/><path d="M591.8 392.4V400.5M586.8 392.4H596.8M586.8 400.5H596.8"/><path d="M619.1 397.2V401.3M614.1 397.2H624.1M614.1 401.3H624.1"/><path d="M646.5 399.3V403.3M641.5 399.3H651.5M641.5 403.3H651.5"/></g>
<g><circle cx="113.0" cy="445.4" r="7.0" fill="#fff" stroke="#000" stroke-width="2.2"/><circle cx="126.7" cy="443.3" r="7.0" fill="#fff" stroke="#000" stroke-width="2.2"/><circle cx="140.3" cy="408.6" r="7.0" fill="#fff" stroke="#000" stroke-width="2.2"/><circle cx="154.0" cy="368.5" r="7.0" fill="#fff" stroke="#000" stroke-width="2.2"/><circle cx="167.7" cy="312.7" r="7.0" fill="#fff" stroke="#000" stroke-width="2.2"/><circle cx="181.4" cy="269.5" r="7.0" fill="#fff" stroke="#000" stroke-width="2.2"/><circle cx="195.1" cy="158.3" r="7.0" fill="#fff" stroke="#000" stroke-width="2.2"/><circle cx="208.7" cy="85.5" r="7.0" fill="#fff" stroke="#000" stroke-width="2.2"/><circle cx="222.4" cy="59.3" r="7.0" fill="#fff" stroke="#000" stroke-width="2.2"/><circle cx="236.1" cy="51.2" r="7.0" fill="#fff" stroke="#000" stroke-width="2.2"/><circle cx="263.5" cy="57.2" r="7.0" fill="#fff" stroke="#000" stroke-width="2.2"/><circle cx="290.8" cy="61.3" r="7.0" fill="#fff" stroke="#000" stroke-width="2.2"/><circle cx="318.2" cy="54.0" r="7.0" fill="#fff" stroke="#000" stroke-width="2.2"/><circle cx="345.5" cy="57.2" r="7.0" fill="#fff" stroke="#000" stroke-width="2.2"/><circle cx="372.9" cy="51.2" r="7.0" fill="#fff" stroke="#000" stroke-width="2.2"/><circle cx="400.3" cy="35.4" r="7.0" fill="#fff" stroke="#000" stroke-width="2.2"/><circle cx="427.6" cy="198.7" r="7.0" fill="#fff" stroke="#000" stroke-width="2.2"/><circle cx="455.0" cy="257.0" r="7.0" fill="#fff" stroke="#000" stroke-width="2.2"/><circle cx="482.3" cy="294.6" r="7.0" fill="#fff" stroke="#000" stroke-width="2.2"/><circle cx="509.7" cy="335.8" r="7.0" fill="#fff" stroke="#000" stroke-width="2.2"/><circle cx="537.1" cy="368.9" r="7.0" fill="#fff" stroke="#000" stroke-width="2.2"/><circle cx="564.4" cy="378.2" r="7.0" fill="#fff" stroke="#000" stroke-width="2.2"/><circle cx="591.8" cy="381.5" r="7.0" fill="#fff" stroke="#000" stroke-width="2.2"/><circle cx="619.1" cy="385.1" r="7.0" fill="#fff" stroke="#000" stroke-width="2.2"/><circle cx="646.5" cy="389.2" r="7.0" fill="#fff" stroke="#000" stroke-width="2.2"/><circle cx="113.0" cy="447.4" r="8.2" fill="#000"/><circle cx="126.7" cy="436.1" r="8.2" fill="#000"/><circle cx="140.3" cy="436.9" r="8.2" fill="#000"/><circle cx="154.0" cy="399.7" r="8.2" fill="#000"/><circle cx="167.7" cy="366.5" r="8.2" fill="#000"/><circle cx="181.4" cy="307.9" r="8.2" fill="#000"/><circle cx="195.1" cy="267.5" r="8.2" fill="#000"/><circle cx="208.7" cy="227.0" r="8.2" fill="#000"/><circle cx="222.4" cy="206.8" r="8.2" fill="#000"/><circle cx="236.1" cy="174.5" r="8.2" fill="#000"/><circle cx="263.5" cy="85.5" r="8.2" fill="#000"/><circle cx="290.8" cy="81.5" r="8.2" fill="#000"/><circle cx="318.2" cy="89.6" r="8.2" fill="#000"/><circle cx="345.5" cy="83.5" r="8.2" fill="#000"/><circle cx="372.9" cy="85.5" r="8.2" fill="#000"/><circle cx="400.3" cy="130.0" r="8.2" fill="#000"/><circle cx="427.6" cy="189.8" r="8.2" fill="#000"/><circle cx="455.0" cy="243.2" r="8.2" fill="#000"/><circle cx="482.3" cy="320.0" r="8.2" fill="#000"/><circle cx="509.7" cy="368.9" r="8.2" fill="#000"/><circle cx="537.1" cy="409.0" r="8.2" fill="#000"/><circle cx="564.4" cy="417.9" r="8.2" fill="#000"/><circle cx="591.8" cy="423.5" r="8.2" fill="#000"/><circle cx="619.1" cy="422.7" r="8.2" fill="#000"/><circle cx="646.5" cy="426.4" r="8.2" fill="#000"/><path d="M113.0 423.0L104.4 438.2L121.6 438.2Z" fill="#fff" stroke="#000" stroke-width="2.1" stroke-linejoin="miter"/><path d="M126.7 391.5L118.1 406.7L135.3 406.7Z" fill="#fff" stroke="#000" stroke-width="2.1" stroke-linejoin="miter"/><path d="M140.3 358.7L131.7 373.9L148.9 373.9Z" fill="#fff" stroke="#000" stroke-width="2.1" stroke-linejoin="miter"/><path d="M154.0 339.3L145.4 354.5L162.6 354.5Z" fill="#fff" stroke="#000" stroke-width="2.1" stroke-linejoin="miter"/><path d="M167.7 278.7L159.1 293.9L176.3 293.9Z" fill="#fff" stroke="#000" stroke-width="2.1" stroke-linejoin="miter"/><path d="M181.4 214.0L172.8 229.2L190.0 229.2Z" fill="#fff" stroke="#000" stroke-width="2.1" stroke-linejoin="miter"/><path d="M195.1 131.1L186.5 146.3L203.7 146.3Z" fill="#fff" stroke="#000" stroke-width="2.1" stroke-linejoin="miter"/><path d="M208.7 106.9L200.1 122.1L217.3 122.1Z" fill="#fff" stroke="#000" stroke-width="2.1" stroke-linejoin="miter"/><path d="M222.4 98.8L213.8 114.0L231.0 114.0Z" fill="#fff" stroke="#000" stroke-width="2.1" stroke-linejoin="miter"/><path d="M236.1 104.8L227.5 120.0L244.7 120.0Z" fill="#fff" stroke="#000" stroke-width="2.1" stroke-linejoin="miter"/><path d="M263.5 104.8L254.9 120.0L272.1 120.0Z" fill="#fff" stroke="#000" stroke-width="2.1" stroke-linejoin="miter"/><path d="M290.8 106.9L282.2 122.1L299.4 122.1Z" fill="#fff" stroke="#000" stroke-width="2.1" stroke-linejoin="miter"/><path d="M318.2 104.8L309.6 120.0L326.8 120.0Z" fill="#fff" stroke="#000" stroke-width="2.1" stroke-linejoin="miter"/><path d="M345.5 104.8L336.9 120.0L354.1 120.0Z" fill="#fff" stroke="#000" stroke-width="2.1" stroke-linejoin="miter"/><path d="M372.9 102.8L364.3 118.0L381.5 118.0Z" fill="#fff" stroke="#000" stroke-width="2.1" stroke-linejoin="miter"/><path d="M400.3 112.9L391.7 128.1L408.9 128.1Z" fill="#fff" stroke="#000" stroke-width="2.1" stroke-linejoin="miter"/><path d="M427.6 189.7L419.0 204.9L436.2 204.9Z" fill="#fff" stroke="#000" stroke-width="2.1" stroke-linejoin="miter"/><path d="M455.0 275.4L446.4 290.6L463.6 290.6Z" fill="#fff" stroke="#000" stroke-width="2.1" stroke-linejoin="miter"/><path d="M482.3 309.8L473.7 325.0L490.9 325.0Z" fill="#fff" stroke="#000" stroke-width="2.1" stroke-linejoin="miter"/><path d="M509.7 363.6L501.1 378.8L518.3 378.8Z" fill="#fff" stroke="#000" stroke-width="2.1" stroke-linejoin="miter"/><path d="M537.1 376.1L528.5 391.3L545.7 391.3Z" fill="#fff" stroke="#000" stroke-width="2.1" stroke-linejoin="miter"/><path d="M564.4 388.6L555.8 403.8L573.0 403.8Z" fill="#fff" stroke="#000" stroke-width="2.1" stroke-linejoin="miter"/><path d="M591.8 400.8L583.2 416.0L600.4 416.0Z" fill="#fff" stroke="#000" stroke-width="2.1" stroke-linejoin="miter"/><path d="M619.1 403.2L610.5 418.4L627.7 418.4Z" fill="#fff" stroke="#000" stroke-width="2.1" stroke-linejoin="miter"/><path d="M646.5 405.2L637.9 420.4L655.1 420.4Z" fill="#fff" stroke="#000" stroke-width="2.1" stroke-linejoin="miter"/><rect x="106.0" y="438.4" width="14" height="14" fill="#000"/><rect x="119.7" y="438.4" width="14" height="14" fill="#000"/><rect x="133.3" y="414.1" width="14" height="14" fill="#000"/><rect x="147.0" y="361.5" width="14" height="14" fill="#000"/><rect x="160.7" y="333.2" width="14" height="14" fill="#000"/><rect x="174.4" y="272.6" width="14" height="14" fill="#000"/><rect x="188.1" y="207.9" width="14" height="14" fill="#000"/><rect x="201.7" y="199.8" width="14" height="14" fill="#000"/><rect x="215.4" y="139.2" width="14" height="14" fill="#000"/><rect x="229.1" y="96.7" width="14" height="14" fill="#000"/><rect x="256.5" y="94.7" width="14" height="14" fill="#000"/><rect x="283.8" y="100.8" width="14" height="14" fill="#000"/><rect x="311.2" y="98.7" width="14" height="14" fill="#000"/><rect x="338.5" y="100.8" width="14" height="14" fill="#000"/><rect x="365.9" y="96.7" width="14" height="14" fill="#000"/><rect x="393.3" y="98.7" width="14" height="14" fill="#000"/><rect x="420.6" y="129.1" width="14" height="14" fill="#000"/><rect x="448.0" y="204.3" width="14" height="14" fill="#000"/><rect x="475.3" y="262.5" width="14" height="14" fill="#000"/><rect x="502.7" y="286.3" width="14" height="14" fill="#000"/><rect x="530.1" y="334.5" width="14" height="14" fill="#000"/><rect x="557.4" y="348.2" width="14" height="14" fill="#000"/><rect x="584.8" y="389.4" width="14" height="14" fill="#000"/><rect x="612.1" y="392.3" width="14" height="14" fill="#000"/><rect x="639.5" y="394.3" width="14" height="14" fill="#000"/></g>
<rect x="766.50" y="8.30" width="572.40" height="442.00" fill="none" stroke="#000" stroke-width="3.3"/>
<path d="M766.90 450.30V459.50M794.27 450.30V455.40M821.64 450.30V459.50M849.01 450.30V455.40M876.38 450.30V459.50M903.75 450.30V455.40M931.12 450.30V459.50M958.49 450.30V455.40M985.86 450.30V459.50M1013.23 450.30V455.40M1040.60 450.30V459.50M1067.97 450.30V455.40M1095.34 450.30V459.50M1122.71 450.30V455.40M1150.08 450.30V459.50M1177.45 450.30V455.40M1204.82 450.30V459.50M1232.19 450.30V455.40M1259.56 450.30V459.50M1286.93 450.30V455.40M1314.30 450.30V459.50M766.50 446.20H757.10M766.50 406.10H761.00M766.50 366.00H757.10M766.50 325.90H761.00M766.50 285.80H757.10M766.50 245.70H761.00M766.50 205.60H757.10M766.50 165.50H761.00M766.50 125.40H757.10M766.50 85.30H761.00M766.50 45.20H757.10" stroke="#000" stroke-width="3" fill="none"/>
<g font-family='"Liberation Serif", serif' font-size="29.8" fill="#000"><text transform="translate(766.9 484.6) scale(0.94 1)" text-anchor="middle">0</text><text transform="translate(821.6 484.6) scale(0.94 1)" text-anchor="middle">2</text><text transform="translate(876.4 484.6) scale(0.94 1)" text-anchor="middle">4</text><text transform="translate(931.1 484.6) scale(0.94 1)" text-anchor="middle">6</text><text transform="translate(985.9 484.6) scale(0.94 1)" text-anchor="middle">8</text><text transform="translate(1040.6 484.6) scale(0.94 1)" text-anchor="middle">10</text><text transform="translate(1095.3 484.6) scale(0.94 1)" text-anchor="middle">12</text><text transform="translate(1150.1 484.6) scale(0.94 1)" text-anchor="middle">14</text><text transform="translate(1204.8 484.6) scale(0.94 1)" text-anchor="middle">16</text><text transform="translate(1259.6 484.6) scale(0.94 1)" text-anchor="middle">18</text><text transform="translate(1314.3 484.6) scale(0.94 1)" text-anchor="middle">20</text><text transform="translate(753.5 453.4) scale(0.94 1)" text-anchor="end">0.0</text><text transform="translate(753.5 373.2) scale(0.94 1)" text-anchor="end">0.2</text><text transform="translate(753.5 293.0) scale(0.94 1)" text-anchor="end">0.4</text><text transform="translate(753.5 212.8) scale(0.94 1)" text-anchor="end">0.6</text><text transform="translate(753.5 132.6) scale(0.94 1)" text-anchor="end">0.8</text><text transform="translate(753.5 52.4) scale(0.94 1)" text-anchor="end">1.0</text></g>
<g stroke="#000" stroke-width="2.2" fill="none" stroke-linejoin="round"><path d="M766.9 446.2 L768.3 446.1 L769.6 445.6 L771.0 445.0 L772.4 444.1 L773.7 443.1 L775.1 442.0 L776.5 440.8 L777.8 439.5 L779.2 437.9 L780.6 435.8 L782.0 433.3 L783.3 430.4 L784.7 427.1 L786.1 423.4 L787.4 419.4 L788.8 415.2 L790.2 410.7 L791.5 406.0 L792.9 401.0 L794.3 396.0 L795.6 390.8 L797.0 385.6 L798.4 380.2 L799.7 374.9 L801.1 369.6 L802.5 364.3 L803.8 359.1 L805.2 353.9 L806.6 348.4 L808.0 342.5 L809.3 336.3 L810.7 329.9 L812.1 323.3 L813.4 316.8 L814.8 310.3 L816.2 303.9 L817.5 297.8 L818.9 292.0 L820.3 286.6 L821.6 281.5 L823.0 276.6 L824.4 271.8 L825.7 267.2 L827.1 262.6 L828.5 258.0 L829.9 253.4 L831.2 248.7 L832.6 243.9 L834.0 238.9 L835.3 233.7 L836.7 228.2 L838.1 222.6 L839.4 216.9 L840.8 211.0 L842.2 205.0 L843.5 198.9 L844.9 192.8 L846.3 186.5 L847.6 180.2 L849.0 173.8 L850.4 167.5 L851.7 161.1 L853.1 154.7 L854.5 148.3 L855.9 141.9 L857.2 135.6 L858.6 129.3 L860.0 123.1 L861.3 117.0 L862.7 110.9 L864.1 104.4 L865.4 97.6 L866.8 90.7 L868.2 84.0 L869.5 77.7 L870.9 72.0 L872.3 67.3 L873.6 63.6 L875.0 60.7 L876.4 58.0 L877.7 55.6 L879.1 53.6 L880.5 52.1 L881.9 51.2 L883.2 50.7 L884.6 50.2 L886.0 49.8 L887.3 49.5 L888.7 49.3 L890.1 49.2 L891.4 49.2 L892.8 49.2 L894.2 49.2 L895.5 49.2 L896.9 49.2 L898.3 49.2 L899.6 49.2 L901.0 49.2 L902.4 49.2 L903.8 49.2 L905.1 49.2 L906.5 49.2 L907.9 49.2 L909.2 49.2 L910.6 49.2 L912.0 49.2 L913.3 49.2 L914.7 49.2 L916.1 49.2 L917.4 49.2 L918.8 49.2 L920.2 49.2 L921.5 49.2 L922.9 49.2 L924.3 49.2 L925.6 49.2 L927.0 49.2 L928.4 49.2 L929.8 49.2 L931.1 49.2 L932.5 49.2 L933.9 49.2 L935.2 49.2 L936.6 49.2 L938.0 49.2 L939.3 49.2 L940.7 49.2 L942.1 49.2 L943.4 49.2 L944.8 49.2 L946.2 49.2 L947.5 49.2 L948.9 49.2 L950.3 49.2 L951.6 49.2 L953.0 49.2 L954.4 49.2 L955.8 49.2 L957.1 49.2 L958.5 49.2 L959.9 49.2 L961.2 49.2 L962.6 49.2 L964.0 49.2 L965.3 49.2 L966.7 49.2 L968.1 49.2 L969.4 49.2 L970.8 49.2 L972.2 49.2 L973.5 49.2 L974.9 49.2 L976.3 49.2 L977.6 49.2 L979.0 49.2 L980.4 49.2 L981.8 49.2 L983.1 49.2 L984.5 49.2 L985.9 49.2 L987.2 49.2 L988.6 49.2 L990.0 49.2 L991.3 49.2 L992.7 49.2 L994.1 49.2 L995.4 49.2 L996.8 49.2 L998.2 49.2 L999.5 49.2 L1000.9 49.2 L1002.3 49.2 L1003.7 49.2 L1005.0 49.2 L1006.4 49.2 L1007.8 49.2 L1009.1 49.2 L1010.5 49.2 L1011.9 49.2 L1013.2 49.2 L1014.6 49.2 L1016.0 49.2 L1017.3 49.2 L1018.7 49.2 L1020.1 49.2 L1021.4 49.2 L1022.8 49.2 L1024.2 49.2 L1025.5 49.2 L1026.9 49.2 L1028.3 49.2 L1029.7 49.2 L1031.0 49.2 L1032.4 49.2 L1033.8 49.2 L1035.1 49.2 L1036.5 49.2 L1037.9 49.2 L1039.2 49.2 L1040.6 49.2 L1042.0 49.3 L1043.3 49.4 L1044.7 49.6 L1046.1 49.8 L1047.4 50.1 L1048.8 50.5 L1050.2 50.8 L1051.5 51.2 L1052.9 51.7 L1054.3 52.3 L1055.7 53.0 L1057.0 53.9 L1058.4 55.0 L1059.8 56.2 L1061.1 57.5 L1062.5 58.9 L1063.9 60.8 L1065.2 63.6 L1066.6 67.2 L1068.0 71.3 L1069.3 75.7 L1070.7 80.1 L1072.1 84.5 L1073.4 88.6 L1074.8 92.3 L1076.2 95.9 L1077.5 99.5 L1078.9 103.1 L1080.3 106.7 L1081.7 110.3 L1083.0 113.8 L1084.4 117.4 L1085.8 121.0 L1087.1 124.7 L1088.5 128.4 L1089.9 132.1 L1091.2 135.8 L1092.6 139.6 L1094.0 143.5 L1095.3 147.4 L1096.7 151.6 L1098.1 155.9 L1099.4 160.3 L1100.8 164.7 L1102.2 169.3 L1103.6 173.8 L1104.9 178.3 L1106.3 182.7 L1107.7 187.0 L1109.0 191.1 L1110.4 195.2 L1111.8 199.2 L1113.1 203.2 L1114.5 207.2 L1115.9 211.3 L1117.2 215.5 L1118.6 219.7 L1120.0 224.2 L1121.3 228.8 L1122.7 233.7 L1124.1 238.9 L1125.4 244.4 L1126.8 250.2 L1128.2 256.4 L1129.6 262.7 L1130.9 269.3 L1132.3 276.0 L1133.7 282.8 L1135.0 289.7 L1136.4 296.7 L1137.8 303.6 L1139.1 310.5 L1140.5 317.4 L1141.9 324.1 L1143.2 330.6 L1144.6 337.0 L1146.0 343.1 L1147.3 348.9 L1148.7 354.4 L1150.1 359.6 L1151.4 364.5 L1152.8 369.2 L1154.2 373.9 L1155.6 378.3 L1156.9 382.7 L1158.3 386.9 L1159.7 390.9 L1161.0 394.8 L1162.4 398.5 L1163.8 402.1 L1165.1 405.6 L1166.5 409.0 L1167.9 412.2 L1169.2 415.4 L1170.6 418.4 L1172.0 421.2 L1173.3 423.8 L1174.7 426.1 L1176.1 428.4 L1177.5 430.5 L1178.8 432.6 L1180.2 434.6 L1181.6 436.3 L1182.9 437.9 L1184.3 439.2 L1185.7 440.2 L1187.0 441.0 L1188.4 441.7 L1189.8 442.4 L1191.1 443.1 L1192.5 443.6 L1193.9 444.2 L1195.2 444.6 L1196.6 444.9 L1198.0 445.2 L1199.3 445.4 L1200.7 445.5 L1202.1 445.7 L1203.5 445.8 L1204.8 445.9 L1206.2 446.0 L1207.6 446.1 L1208.9 446.1 L1210.3 446.2 L1211.7 446.2 L1213.0 446.2 L1214.4 446.2 L1215.8 446.2 L1217.1 446.2 L1218.5 446.2 L1219.9 446.2 L1221.2 446.2 L1222.6 446.2 L1224.0 446.2 L1225.3 446.2 L1226.7 446.2 L1228.1 446.2 L1229.5 446.2 L1230.8 446.2 L1232.2 446.2 L1233.6 446.2 L1234.9 446.2 L1236.3 446.2 L1237.7 446.2 L1239.0 446.2 L1240.4 446.2 L1241.8 446.2 L1243.1 446.2 L1244.5 446.2 L1245.9 446.2 L1247.2 446.2 L1248.6 446.2 L1250.0 446.2 L1251.3 446.2 L1252.7 446.2 L1254.1 446.2 L1255.5 446.2 L1256.8 446.2 L1258.2 446.2 L1259.6 446.2 L1260.9 446.2 L1262.3 446.2 L1263.7 446.2 L1265.0 446.2 L1266.4 446.2 L1267.8 446.2 L1269.1 446.2 L1270.5 446.2 L1271.9 446.2 L1273.2 446.2 L1274.6 446.2 L1276.0 446.2 L1277.4 446.2 L1278.7 446.2 L1280.1 446.2 L1281.5 446.2 L1282.8 446.2 L1284.2 446.2 L1285.6 446.2 L1286.9 446.2 L1288.3 446.2 L1289.7 446.2 L1291.0 446.2 L1292.4 446.2 L1293.8 446.2 L1295.1 446.2 L1296.5 446.2 L1297.9 446.2 L1299.2 446.2 L1300.6 446.2 L1302.0 446.2 L1303.4 446.2 L1304.7 446.2 L1306.1 446.2 L1307.5 446.2 L1308.8 446.2 L1310.2 446.2 L1311.6 446.2 L1312.9 446.2 L1314.3 446.2"/><path d="M766.9 446.2 L768.3 446.1 L769.6 445.9 L771.0 445.6 L772.4 445.1 L773.7 444.5 L775.1 443.9 L776.5 443.1 L777.8 442.3 L779.2 441.4 L780.6 440.5 L782.0 439.6 L783.3 438.4 L784.7 436.7 L786.1 434.7 L787.4 432.4 L788.8 429.7 L790.2 426.7 L791.5 423.5 L792.9 420.1 L794.3 416.4 L795.6 412.6 L797.0 408.6 L798.4 404.5 L799.7 400.3 L801.1 396.0 L802.5 391.7 L803.8 387.4 L805.2 383.2 L806.6 378.9 L808.0 374.8 L809.3 370.7 L810.7 366.8 L812.1 362.9 L813.4 359.0 L814.8 354.9 L816.2 350.8 L817.5 346.6 L818.9 342.4 L820.3 338.1 L821.6 333.8 L823.0 329.4 L824.4 325.1 L825.7 320.8 L827.1 316.4 L828.5 312.2 L829.9 307.9 L831.2 303.7 L832.6 299.4 L834.0 295.2 L835.3 291.0 L836.7 286.7 L838.1 282.5 L839.4 278.2 L840.8 273.9 L842.2 269.6 L843.5 265.2 L844.9 260.7 L846.3 256.2 L847.6 251.7 L849.0 247.1 L850.4 242.4 L851.7 237.6 L853.1 232.6 L854.5 227.3 L855.9 221.9 L857.2 216.4 L858.6 210.7 L860.0 204.9 L861.3 199.0 L862.7 193.0 L864.1 187.0 L865.4 181.0 L866.8 175.0 L868.2 169.0 L869.5 163.1 L870.9 157.2 L872.3 151.5 L873.6 145.8 L875.0 140.3 L876.4 135.0 L877.7 129.8 L879.1 124.9 L880.5 120.2 L881.9 115.7 L883.2 111.5 L884.6 107.7 L886.0 104.1 L887.3 100.7 L888.7 97.3 L890.1 94.0 L891.4 91.0 L892.8 88.5 L894.2 86.5 L895.5 85.3 L896.9 84.5 L898.3 83.8 L899.6 83.2 L901.0 82.6 L902.4 82.1 L903.8 81.7 L905.1 81.3 L906.5 81.1 L907.9 80.9 L909.2 80.9 L910.6 80.9 L912.0 80.9 L913.3 80.9 L914.7 80.9 L916.1 80.9 L917.4 80.9 L918.8 80.9 L920.2 80.9 L921.5 80.9 L922.9 80.9 L924.3 80.9 L925.6 80.9 L927.0 80.9 L928.4 80.9 L929.8 80.9 L931.1 80.9 L932.5 80.9 L933.9 80.9 L935.2 80.9 L936.6 80.9 L938.0 80.9 L939.3 80.9 L940.7 80.9 L942.1 80.9 L943.4 80.9 L944.8 80.9 L946.2 80.9 L947.5 80.9 L948.9 80.9 L950.3 80.9 L951.6 80.9 L953.0 80.9 L954.4 80.9 L955.8 80.9 L957.1 80.9 L958.5 80.9 L959.9 80.9 L961.2 80.9 L962.6 80.9 L964.0 80.9 L965.3 80.9 L966.7 80.9 L968.1 80.9 L969.4 80.9 L970.8 80.9 L972.2 80.9 L973.5 80.9 L974.9 80.9 L976.3 80.9 L977.6 80.9 L979.0 80.9 L980.4 80.9 L981.8 80.9 L983.1 80.9 L984.5 80.9 L985.9 80.9 L987.2 80.9 L988.6 80.9 L990.0 80.9 L991.3 80.9 L992.7 80.9 L994.1 80.9 L995.4 80.9 L996.8 80.9 L998.2 80.9 L999.5 80.9 L1000.9 80.9 L1002.3 80.9 L1003.7 80.9 L1005.0 80.9 L1006.4 80.9 L1007.8 80.9 L1009.1 80.9 L1010.5 80.9 L1011.9 80.9 L1013.2 80.9 L1014.6 80.9 L1016.0 80.9 L1017.3 80.9 L1018.7 80.9 L1020.1 80.9 L1021.4 80.9 L1022.8 80.9 L1024.2 80.9 L1025.5 80.9 L1026.9 80.9 L1028.3 80.9 L1029.7 80.9 L1031.0 80.9 L1032.4 81.0 L1033.8 81.0 L1035.1 81.1 L1036.5 81.1 L1037.9 81.2 L1039.2 81.2 L1040.6 81.3 L1042.0 81.4 L1043.3 81.5 L1044.7 81.6 L1046.1 81.8 L1047.4 82.0 L1048.8 82.2 L1050.2 82.4 L1051.5 82.7 L1052.9 83.0 L1054.3 83.3 L1055.7 83.6 L1057.0 84.0 L1058.4 84.4 L1059.8 84.8 L1061.1 85.2 L1062.5 85.7 L1063.9 86.3 L1065.2 87.0 L1066.6 88.0 L1068.0 89.0 L1069.3 90.3 L1070.7 91.6 L1072.1 93.1 L1073.4 94.7 L1074.8 96.4 L1076.2 98.1 L1077.5 100.0 L1078.9 101.8 L1080.3 103.7 L1081.7 105.8 L1083.0 108.3 L1084.4 111.0 L1085.8 113.9 L1087.1 117.1 L1088.5 120.3 L1089.9 123.6 L1091.2 127.0 L1092.6 130.3 L1094.0 133.5 L1095.3 136.7 L1096.7 139.8 L1098.1 142.9 L1099.4 146.0 L1100.8 149.1 L1102.2 152.3 L1103.6 155.5 L1104.9 158.7 L1106.3 162.0 L1107.7 165.3 L1109.0 168.6 L1110.4 172.0 L1111.8 175.5 L1113.1 179.1 L1114.5 182.7 L1115.9 186.3 L1117.2 190.0 L1118.6 193.8 L1120.0 197.6 L1121.3 201.4 L1122.7 205.3 L1124.1 209.2 L1125.4 213.2 L1126.8 217.3 L1128.2 221.4 L1129.6 225.5 L1130.9 229.7 L1132.3 233.9 L1133.7 238.4 L1135.0 242.9 L1136.4 247.5 L1137.8 252.2 L1139.1 257.0 L1140.5 261.8 L1141.9 266.5 L1143.2 271.3 L1144.6 276.0 L1146.0 280.6 L1147.3 285.1 L1148.7 289.6 L1150.1 293.8 L1151.4 298.0 L1152.8 302.3 L1154.2 306.6 L1155.6 310.9 L1156.9 315.2 L1158.3 319.5 L1159.7 323.8 L1161.0 328.0 L1162.4 332.2 L1163.8 336.3 L1165.1 340.3 L1166.5 344.2 L1167.9 348.0 L1169.2 351.6 L1170.6 355.1 L1172.0 358.5 L1173.3 361.7 L1174.7 364.7 L1176.1 367.4 L1177.5 370.0 L1178.8 372.4 L1180.2 374.7 L1181.6 377.0 L1182.9 379.2 L1184.3 381.3 L1185.7 383.3 L1187.0 385.2 L1188.4 387.1 L1189.8 389.0 L1191.1 390.8 L1192.5 392.5 L1193.9 394.2 L1195.2 395.8 L1196.6 397.4 L1198.0 398.9 L1199.3 400.4 L1200.7 401.9 L1202.1 403.3 L1203.5 404.7 L1204.8 406.1 L1206.2 407.5 L1207.6 408.8 L1208.9 410.1 L1210.3 411.3 L1211.7 412.6 L1213.0 413.8 L1214.4 415.0 L1215.8 416.2 L1217.1 417.3 L1218.5 418.4 L1219.9 419.5 L1221.2 420.5 L1222.6 421.6 L1224.0 422.6 L1225.3 423.6 L1226.7 424.5 L1228.1 425.5 L1229.5 426.4 L1230.8 427.3 L1232.2 428.2 L1233.6 429.0 L1234.9 429.9 L1236.3 430.8 L1237.7 431.6 L1239.0 432.5 L1240.4 433.3 L1241.8 434.2 L1243.1 435.0 L1244.5 435.8 L1245.9 436.6 L1247.2 437.4 L1248.6 438.1 L1250.0 438.8 L1251.3 439.4 L1252.7 440.0 L1254.1 440.5 L1255.5 441.0 L1256.8 441.5 L1258.2 441.9 L1259.6 442.2 L1260.9 442.5 L1262.3 442.7 L1263.7 443.0 L1265.0 443.3 L1266.4 443.5 L1267.8 443.8 L1269.1 444.0 L1270.5 444.2 L1271.9 444.4 L1273.2 444.6 L1274.6 444.8 L1276.0 445.0 L1277.4 445.1 L1278.7 445.3 L1280.1 445.4 L1281.5 445.5 L1282.8 445.6 L1284.2 445.7 L1285.6 445.8 L1286.9 445.8 L1288.3 445.8 L1289.7 445.9 L1291.0 445.9 L1292.4 445.9 L1293.8 446.0 L1295.1 446.0 L1296.5 446.0 L1297.9 446.0 L1299.2 446.1 L1300.6 446.1 L1302.0 446.1 L1303.4 446.1 L1304.7 446.1 L1306.1 446.2 L1307.5 446.2 L1308.8 446.2 L1310.2 446.2 L1311.6 446.2 L1312.9 446.2 L1314.3 446.2"/><path d="M766.9 446.2 L768.3 441.0 L769.6 436.5 L771.0 432.7 L772.4 429.3 L773.7 426.1 L775.1 423.0 L776.5 420.0 L777.8 416.9 L779.2 413.7 L780.6 410.1 L782.0 406.4 L783.3 402.6 L784.7 398.8 L786.1 394.9 L787.4 390.9 L788.8 386.7 L790.2 382.3 L791.5 377.6 L792.9 372.6 L794.3 367.3 L795.6 361.3 L797.0 354.5 L798.4 347.2 L799.7 339.4 L801.1 331.4 L802.5 323.3 L803.8 315.4 L805.2 307.7 L806.6 300.4 L808.0 293.7 L809.3 287.2 L810.7 281.0 L812.1 274.9 L813.4 268.8 L814.8 262.8 L816.2 256.7 L817.5 250.5 L818.9 244.0 L820.3 237.2 L821.6 230.1 L823.0 222.4 L824.4 214.3 L825.7 205.9 L827.1 197.1 L828.5 188.2 L829.9 179.1 L831.2 170.0 L832.6 161.0 L834.0 152.1 L835.3 143.4 L836.7 134.5 L838.1 124.8 L839.4 114.7 L840.8 104.6 L842.2 94.8 L843.5 85.7 L844.9 77.5 L846.3 70.6 L847.6 65.4 L849.0 62.1 L850.4 59.4 L851.7 57.2 L853.1 55.5 L854.5 54.4 L855.9 53.7 L857.2 53.0 L858.6 52.4 L860.0 52.0 L861.3 51.7 L862.7 51.6 L864.1 51.6 L865.4 51.6 L866.8 51.6 L868.2 51.6 L869.5 51.6 L870.9 51.6 L872.3 51.6 L873.6 51.6 L875.0 51.6 L876.4 51.6 L877.7 51.6 L879.1 51.6 L880.5 51.6 L881.9 51.6 L883.2 51.6 L884.6 51.6 L886.0 51.6 L887.3 51.6 L888.7 51.6 L890.1 51.6 L891.4 51.6 L892.8 51.6 L894.2 51.6 L895.5 51.6 L896.9 51.6 L898.3 51.6 L899.6 51.6 L901.0 51.6 L902.4 51.6 L903.8 51.6 L905.1 51.6 L906.5 51.6 L907.9 51.6 L909.2 51.6 L910.6 51.6 L912.0 51.6 L913.3 51.6 L914.7 51.6 L916.1 51.6 L917.4 51.6 L918.8 51.6 L920.2 51.6 L921.5 51.6 L922.9 51.6 L924.3 51.6 L925.6 51.6 L927.0 51.6 L928.4 51.6 L929.8 51.6 L931.1 51.6 L932.5 51.6 L933.9 51.6 L935.2 51.6 L936.6 51.6 L938.0 51.6 L939.3 51.6 L940.7 51.6 L942.1 51.6 L943.4 51.6 L944.8 51.6 L946.2 51.6 L947.5 51.6 L948.9 51.6 L950.3 51.6 L951.6 51.6 L953.0 51.6 L954.4 51.6 L955.8 51.6 L957.1 51.6 L958.5 51.6 L959.9 51.6 L961.2 51.6 L962.6 51.6 L964.0 51.6 L965.3 51.6 L966.7 51.6 L968.1 51.6 L969.4 51.6 L970.8 51.6 L972.2 51.6 L973.5 51.6 L974.9 51.6 L976.3 51.6 L977.6 51.6 L979.0 51.6 L980.4 51.6 L981.8 51.6 L983.1 51.6 L984.5 51.6 L985.9 51.6 L987.2 51.6 L988.6 51.6 L990.0 51.6 L991.3 51.6 L992.7 51.6 L994.1 51.6 L995.4 51.6 L996.8 51.6 L998.2 51.6 L999.5 51.6 L1000.9 51.6 L1002.3 51.6 L1003.7 51.6 L1005.0 51.6 L1006.4 51.6 L1007.8 51.6 L1009.1 51.6 L1010.5 51.6 L1011.9 51.6 L1013.2 51.6 L1014.6 51.6 L1016.0 51.6 L1017.3 51.6 L1018.7 51.6 L1020.1 51.6 L1021.4 51.6 L1022.8 51.6 L1024.2 51.6 L1025.5 51.6 L1026.9 51.6 L1028.3 51.6 L1029.7 51.6 L1031.0 51.6 L1032.4 51.6 L1033.8 51.6 L1035.1 51.6 L1036.5 51.6 L1037.9 51.6 L1039.2 51.6 L1040.6 51.6 L1042.0 51.6 L1043.3 51.6 L1044.7 51.6 L1046.1 51.6 L1047.4 51.6 L1048.8 51.6 L1050.2 51.6 L1051.5 51.6 L1052.9 51.6 L1054.3 51.6 L1055.7 51.6 L1057.0 51.6 L1058.4 51.6 L1059.8 51.7 L1061.1 51.7 L1062.5 51.8 L1063.9 51.9 L1065.2 52.0 L1066.6 52.2 L1068.0 52.3 L1069.3 52.5 L1070.7 52.7 L1072.1 52.9 L1073.4 53.2 L1074.8 53.5 L1076.2 54.1 L1077.5 55.0 L1078.9 56.0 L1080.3 57.2 L1081.7 58.4 L1083.0 59.8 L1084.4 61.6 L1085.8 63.5 L1087.1 65.8 L1088.5 68.2 L1089.9 70.9 L1091.2 73.7 L1092.6 76.8 L1094.0 80.5 L1095.3 84.6 L1096.7 89.1 L1098.1 93.9 L1099.4 98.9 L1100.8 104.0 L1102.2 109.2 L1103.6 114.3 L1104.9 119.4 L1106.3 124.7 L1107.7 130.3 L1109.0 136.0 L1110.4 141.8 L1111.8 147.7 L1113.1 153.6 L1114.5 159.6 L1115.9 165.4 L1117.2 171.2 L1118.6 176.9 L1120.0 182.7 L1121.3 188.6 L1122.7 194.5 L1124.1 200.3 L1125.4 206.1 L1126.8 211.7 L1128.2 217.1 L1129.6 222.3 L1130.9 227.3 L1132.3 231.9 L1133.7 236.4 L1135.0 240.8 L1136.4 245.0 L1137.8 249.1 L1139.1 253.0 L1140.5 256.8 L1141.9 260.5 L1143.2 263.9 L1144.6 267.2 L1146.0 270.4 L1147.3 273.5 L1148.7 276.6 L1150.1 279.8 L1151.4 283.0 L1152.8 286.4 L1154.2 289.7 L1155.6 293.2 L1156.9 296.6 L1158.3 300.1 L1159.7 303.6 L1161.0 307.0 L1162.4 310.5 L1163.8 313.9 L1165.1 317.3 L1166.5 320.6 L1167.9 323.8 L1169.2 327.0 L1170.6 330.1 L1172.0 333.0 L1173.3 335.9 L1174.7 338.6 L1176.1 341.1 L1177.5 343.5 L1178.8 345.8 L1180.2 348.0 L1181.6 350.1 L1182.9 352.2 L1184.3 354.2 L1185.7 356.1 L1187.0 358.0 L1188.4 359.8 L1189.8 361.6 L1191.1 363.3 L1192.5 365.0 L1193.9 366.7 L1195.2 368.4 L1196.6 370.1 L1198.0 371.7 L1199.3 373.4 L1200.7 375.0 L1202.1 376.7 L1203.5 378.3 L1204.8 380.0 L1206.2 381.7 L1207.6 383.5 L1208.9 385.2 L1210.3 386.9 L1211.7 388.6 L1213.0 390.3 L1214.4 391.9 L1215.8 393.6 L1217.1 395.3 L1218.5 396.9 L1219.9 398.5 L1221.2 400.1 L1222.6 401.7 L1224.0 403.3 L1225.3 404.8 L1226.7 406.4 L1228.1 407.8 L1229.5 409.3 L1230.8 410.7 L1232.2 412.1 L1233.6 413.5 L1234.9 414.9 L1236.3 416.3 L1237.7 417.7 L1239.0 419.1 L1240.4 420.5 L1241.8 421.9 L1243.1 423.3 L1244.5 424.7 L1245.9 426.0 L1247.2 427.2 L1248.6 428.5 L1250.0 429.7 L1251.3 430.8 L1252.7 431.9 L1254.1 432.9 L1255.5 433.8 L1256.8 434.7 L1258.2 435.5 L1259.6 436.2 L1260.9 436.8 L1262.3 437.4 L1263.7 438.1 L1265.0 438.7 L1266.4 439.3 L1267.8 439.8 L1269.1 440.4 L1270.5 440.9 L1271.9 441.4 L1273.2 441.9 L1274.6 442.4 L1276.0 442.8 L1277.4 443.2 L1278.7 443.6 L1280.1 443.9 L1281.5 444.2 L1282.8 444.5 L1284.2 444.7 L1285.6 444.9 L1286.9 445.0 L1288.3 445.1 L1289.7 445.2 L1291.0 445.3 L1292.4 445.4 L1293.8 445.5 L1295.1 445.6 L1296.5 445.6 L1297.9 445.7 L1299.2 445.8 L1300.6 445.9 L1302.0 445.9 L1303.4 446.0 L1304.7 446.0 L1306.1 446.1 L1307.5 446.1 L1308.8 446.1 L1310.2 446.2 L1311.6 446.2 L1312.9 446.2 L1314.3 446.2"/></g>
<g stroke="#111" stroke-width="1.5" fill="none"><path d="M794.3 374.0V382.0M789.3 374.0H799.3M789.3 382.0H799.3"/><path d="M808.0 362.0V370.0M803.0 362.0H813.0M803.0 370.0H813.0"/><path d="M821.6 321.9V329.9M816.6 321.9H826.6M816.6 329.9H826.6"/><path d="M835.3 281.8V289.8M830.3 281.8H840.3M830.3 289.8H840.3"/><path d="M849.0 165.1V181.1M844.0 165.1H854.0M844.0 181.1H854.0"/><path d="M862.7 121.4V129.4M857.7 121.4H867.7M857.7 129.4H867.7"/><path d="M876.4 54.0V62.0M871.4 54.0H881.4M871.4 62.0H881.4"/><path d="M890.1 45.2V53.2M885.1 45.2H895.1M885.1 53.2H895.1"/><path d="M903.8 41.2V57.2M898.8 41.2H908.8M898.8 57.2H908.8"/><path d="M931.1 49.2V57.2M926.1 49.2H936.1M926.1 57.2H936.1"/><path d="M958.5 47.2V55.2M953.5 47.2H963.5M953.5 55.2H963.5"/><path d="M985.9 41.2V57.2M980.9 41.2H990.9M980.9 57.2H990.9"/><path d="M1013.2 15.1V39.2M1008.2 15.1H1018.2M1008.2 39.2H1018.2"/><path d="M1040.6 34.4V50.4M1035.6 34.4H1045.6M1035.6 50.4H1045.6"/><path d="M1068.0 13.1V37.2M1063.0 13.1H1073.0M1063.0 37.2H1073.0"/><path d="M1095.3 133.0V157.1M1090.3 133.0H1100.3M1090.3 157.1H1100.3"/><path d="M1122.7 193.6V273.8M1117.7 193.6H1127.7M1117.7 273.8H1127.7"/><path d="M1150.1 358.4V374.4M1145.1 358.4H1155.1M1145.1 374.4H1155.1"/><path d="M1177.5 370.4V426.6M1172.5 370.4H1182.5M1172.5 426.6H1182.5"/><path d="M1204.8 394.5V434.6M1199.8 394.5H1209.8M1199.8 434.6H1209.8"/><path d="M1232.2 410.1V418.1M1227.2 410.1H1237.2M1227.2 418.1H1237.2"/><path d="M1259.6 414.1V422.1M1254.6 414.1H1264.6M1254.6 422.1H1264.6"/><path d="M1286.9 418.1V426.1M1281.9 418.1H1291.9M1281.9 426.1H1291.9"/><path d="M1314.3 424.5V432.6M1309.3 424.5H1319.3M1309.3 432.6H1319.3"/><path d="M794.3 402.1V418.1M789.3 402.1H799.3M789.3 418.1H799.3"/><path d="M808.0 390.1V406.1M803.0 390.1H813.0M803.0 406.1H813.0"/><path d="M821.6 341.9V366.0M816.6 341.9H826.6M816.6 366.0H826.6"/><path d="M835.3 313.9V337.9M830.3 313.9H840.3M830.3 337.9H840.3"/><path d="M849.0 257.7V273.8M844.0 257.7H854.0M844.0 273.8H854.0"/><path d="M862.7 197.6V213.6M857.7 197.6H867.7M857.7 213.6H867.7"/><path d="M876.4 137.4V153.5M871.4 137.4H881.4M871.4 153.5H881.4"/><path d="M890.1 86.1V106.2M885.1 86.1H895.1M885.1 106.2H895.1"/><path d="M903.8 90.5V106.6M898.8 90.5H908.8M898.8 106.6H908.8"/><path d="M931.1 83.3V99.3M926.1 83.3H936.1M926.1 99.3H936.1"/><path d="M958.5 90.5V110.6M953.5 90.5H963.5M953.5 110.6H963.5"/><path d="M985.9 85.3V101.3M980.9 85.3H990.9M980.9 101.3H990.9"/><path d="M1013.2 80.9V96.9M1008.2 80.9H1018.2M1008.2 96.9H1018.2"/><path d="M1040.6 54.0V74.1M1035.6 54.0H1045.6M1035.6 74.1H1045.6"/><path d="M1068.0 40.4V48.4M1063.0 40.4H1073.0M1063.0 48.4H1073.0"/><path d="M1095.3 107.0V123.0M1090.3 107.0H1100.3M1090.3 123.0H1100.3"/><path d="M1122.7 208.8V224.8M1117.7 208.8H1127.7M1117.7 224.8H1127.7"/><path d="M1150.1 281.8V289.8M1145.1 281.8H1155.1M1145.1 289.8H1155.1"/><path d="M1177.5 353.2V361.2M1172.5 353.2H1182.5M1172.5 361.2H1182.5"/><path d="M1204.8 380.8V388.9M1199.8 380.8H1209.8M1199.8 388.9H1209.8"/><path d="M1232.2 414.1V422.1M1227.2 414.1H1237.2M1227.2 422.1H1237.2"/><path d="M1259.6 429.0V437.0M1254.6 429.0H1264.6M1254.6 437.0H1264.6"/><path d="M1286.9 434.6V442.6M1281.9 434.6H1291.9M1281.9 442.6H1291.9"/><path d="M1314.3 437.8V445.8M1309.3 437.8H1319.3M1309.3 445.8H1319.3"/><path d="M794.3 312.7V328.7M789.3 312.7H799.3M789.3 328.7H799.3"/><path d="M808.0 281.4V289.4M803.0 281.4H813.0M803.0 289.4H813.0"/><path d="M821.6 202.4V242.5M816.6 202.4H826.6M816.6 242.5H826.6"/><path d="M835.3 123.4V163.5M830.3 123.4H840.3M830.3 163.5H840.3"/><path d="M849.0 59.2V67.3M844.0 59.2H854.0M844.0 67.3H854.0"/><path d="M862.7 42.0V58.0M857.7 42.0H867.7M857.7 58.0H867.7"/><path d="M876.4 37.6V53.6M871.4 37.6H881.4M871.4 53.6H881.4"/><path d="M890.1 43.2V59.2M885.1 43.2H895.1M885.1 59.2H895.1"/><path d="M903.8 42.0V58.0M898.8 42.0H908.8M898.8 58.0H908.8"/><path d="M931.1 47.2V59.2M926.1 47.2H936.1M926.1 59.2H936.1"/><path d="M958.5 46.4V58.4M953.5 46.4H963.5M953.5 58.4H963.5"/><path d="M985.9 43.2V59.2M980.9 43.2H990.9M980.9 59.2H990.9"/><path d="M1013.2 44.0V56.0M1008.2 44.0H1018.2M1008.2 56.0H1018.2"/><path d="M1040.6 38.8V54.8M1035.6 38.8H1045.6M1035.6 54.8H1045.6"/><path d="M1068.0 35.6V59.6M1063.0 35.6H1073.0M1063.0 59.6H1073.0"/><path d="M1095.3 48.0V56.0M1090.3 48.0H1100.3M1090.3 56.0H1100.3"/><path d="M1122.7 199.6V215.6M1117.7 199.6H1127.7M1117.7 215.6H1127.7"/><path d="M1150.1 249.7V265.8M1145.1 249.7H1155.1M1145.1 265.8H1155.1"/><path d="M1177.5 325.1V405.3M1172.5 325.1H1182.5M1172.5 405.3H1182.5"/><path d="M1204.8 390.1V398.1M1199.8 390.1H1209.8M1199.8 398.1H1209.8"/><path d="M1232.2 408.1V416.1M1227.2 408.1H1237.2M1227.2 416.1H1237.2"/><path d="M1259.6 414.9V422.9M1254.6 414.9H1264.6M1254.6 422.9H1264.6"/><path d="M1286.9 418.5V426.6M1281.9 418.5H1291.9M1281.9 426.6H1291.9"/><path d="M1314.3 425.3V433.4M1309.3 425.3H1319.3M1309.3 433.4H1319.3"/></g>
<g><circle cx="780.6" cy="437.4" r="7.0" fill="#fff" stroke="#000" stroke-width="2.2"/><circle cx="794.3" cy="378.0" r="7.0" fill="#fff" stroke="#000" stroke-width="2.2"/><circle cx="808.0" cy="366.0" r="7.0" fill="#fff" stroke="#000" stroke-width="2.2"/><circle cx="821.6" cy="325.9" r="7.0" fill="#fff" stroke="#000" stroke-width="2.2"/><circle cx="835.3" cy="285.8" r="7.0" fill="#fff" stroke="#000" stroke-width="2.2"/><circle cx="849.0" cy="173.1" r="7.0" fill="#fff" stroke="#000" stroke-width="2.2"/><circle cx="862.7" cy="125.4" r="7.0" fill="#fff" stroke="#000" stroke-width="2.2"/><circle cx="876.4" cy="58.0" r="7.0" fill="#fff" stroke="#000" stroke-width="2.2"/><circle cx="890.1" cy="49.2" r="7.0" fill="#fff" stroke="#000" stroke-width="2.2"/><circle cx="903.8" cy="49.2" r="7.0" fill="#fff" stroke="#000" stroke-width="2.2"/><circle cx="931.1" cy="53.2" r="7.0" fill="#fff" stroke="#000" stroke-width="2.2"/><circle cx="958.5" cy="51.2" r="7.0" fill="#fff" stroke="#000" stroke-width="2.2"/><circle cx="985.9" cy="49.2" r="7.0" fill="#fff" stroke="#000" stroke-width="2.2"/><circle cx="1013.2" cy="27.2" r="7.0" fill="#fff" stroke="#000" stroke-width="2.2"/><circle cx="1040.6" cy="42.4" r="7.0" fill="#fff" stroke="#000" stroke-width="2.2"/><circle cx="1068.0" cy="25.1" r="7.0" fill="#fff" stroke="#000" stroke-width="2.2"/><circle cx="1095.3" cy="145.0" r="7.0" fill="#fff" stroke="#000" stroke-width="2.2"/><circle cx="1122.7" cy="233.7" r="7.0" fill="#fff" stroke="#000" stroke-width="2.2"/><circle cx="1150.1" cy="366.4" r="7.0" fill="#fff" stroke="#000" stroke-width="2.2"/><circle cx="1177.5" cy="398.5" r="7.0" fill="#fff" stroke="#000" stroke-width="2.2"/><circle cx="1204.8" cy="414.5" r="7.0" fill="#fff" stroke="#000" stroke-width="2.2"/><circle cx="1232.2" cy="414.1" r="7.0" fill="#fff" stroke="#000" stroke-width="2.2"/><circle cx="1259.6" cy="418.1" r="7.0" fill="#fff" stroke="#000" stroke-width="2.2"/><circle cx="1286.9" cy="422.1" r="7.0" fill="#fff" stroke="#000" stroke-width="2.2"/><circle cx="1314.3" cy="428.6" r="7.0" fill="#fff" stroke="#000" stroke-width="2.2"/><circle cx="780.6" cy="445.4" r="8.2" fill="#000"/><circle cx="794.3" cy="410.1" r="8.2" fill="#000"/><circle cx="808.0" cy="398.1" r="8.2" fill="#000"/><circle cx="821.6" cy="354.0" r="8.2" fill="#000"/><circle cx="835.3" cy="325.9" r="8.2" fill="#000"/><circle cx="849.0" cy="265.8" r="8.2" fill="#000"/><circle cx="862.7" cy="205.6" r="8.2" fill="#000"/><circle cx="876.4" cy="145.4" r="8.2" fill="#000"/><circle cx="890.1" cy="96.1" r="8.2" fill="#000"/><circle cx="903.8" cy="98.5" r="8.2" fill="#000"/><circle cx="931.1" cy="91.3" r="8.2" fill="#000"/><circle cx="958.5" cy="100.5" r="8.2" fill="#000"/><circle cx="985.9" cy="93.3" r="8.2" fill="#000"/><circle cx="1013.2" cy="88.9" r="8.2" fill="#000"/><circle cx="1040.6" cy="64.0" r="8.2" fill="#000"/><circle cx="1068.0" cy="44.4" r="8.2" fill="#000"/><circle cx="1095.3" cy="115.0" r="8.2" fill="#000"/><circle cx="1122.7" cy="216.8" r="8.2" fill="#000"/><circle cx="1150.1" cy="285.8" r="8.2" fill="#000"/><circle cx="1177.5" cy="357.2" r="8.2" fill="#000"/><circle cx="1204.8" cy="384.8" r="8.2" fill="#000"/><circle cx="1232.2" cy="418.1" r="8.2" fill="#000"/><circle cx="1259.6" cy="433.0" r="8.2" fill="#000"/><circle cx="1286.9" cy="438.6" r="8.2" fill="#000"/><circle cx="1314.3" cy="441.8" r="8.2" fill="#000"/><path d="M780.6 388.3L772.0 403.5L789.2 403.5Z" fill="#fff" stroke="#000" stroke-width="2.1" stroke-linejoin="miter"/><path d="M794.3 311.7L785.7 326.9L802.9 326.9Z" fill="#fff" stroke="#000" stroke-width="2.1" stroke-linejoin="miter"/><path d="M808.0 276.4L799.4 291.6L816.6 291.6Z" fill="#fff" stroke="#000" stroke-width="2.1" stroke-linejoin="miter"/><path d="M821.6 213.4L813.0 228.6L830.2 228.6Z" fill="#fff" stroke="#000" stroke-width="2.1" stroke-linejoin="miter"/><path d="M835.3 134.4L826.7 149.6L843.9 149.6Z" fill="#fff" stroke="#000" stroke-width="2.1" stroke-linejoin="miter"/><path d="M849.0 54.2L840.4 69.4L857.6 69.4Z" fill="#fff" stroke="#000" stroke-width="2.1" stroke-linejoin="miter"/><path d="M862.7 41.0L854.1 56.2L871.3 56.2Z" fill="#fff" stroke="#000" stroke-width="2.1" stroke-linejoin="miter"/><path d="M876.4 36.6L867.8 51.8L885.0 51.8Z" fill="#fff" stroke="#000" stroke-width="2.1" stroke-linejoin="miter"/><path d="M890.1 42.2L881.5 57.4L898.7 57.4Z" fill="#fff" stroke="#000" stroke-width="2.1" stroke-linejoin="miter"/><path d="M903.8 41.0L895.1 56.2L912.4 56.2Z" fill="#fff" stroke="#000" stroke-width="2.1" stroke-linejoin="miter"/><path d="M931.1 44.2L922.5 59.4L939.7 59.4Z" fill="#fff" stroke="#000" stroke-width="2.1" stroke-linejoin="miter"/><path d="M958.5 43.4L949.9 58.6L967.1 58.6Z" fill="#fff" stroke="#000" stroke-width="2.1" stroke-linejoin="miter"/><path d="M985.9 42.2L977.3 57.4L994.5 57.4Z" fill="#fff" stroke="#000" stroke-width="2.1" stroke-linejoin="miter"/><path d="M1013.2 41.0L1004.6 56.2L1021.8 56.2Z" fill="#fff" stroke="#000" stroke-width="2.1" stroke-linejoin="miter"/><path d="M1040.6 37.8L1032.0 53.0L1049.2 53.0Z" fill="#fff" stroke="#000" stroke-width="2.1" stroke-linejoin="miter"/><path d="M1068.0 38.6L1059.4 53.8L1076.6 53.8Z" fill="#fff" stroke="#000" stroke-width="2.1" stroke-linejoin="miter"/><path d="M1095.3 43.0L1086.7 58.2L1103.9 58.2Z" fill="#fff" stroke="#000" stroke-width="2.1" stroke-linejoin="miter"/><path d="M1122.7 198.6L1114.1 213.8L1131.3 213.8Z" fill="#fff" stroke="#000" stroke-width="2.1" stroke-linejoin="miter"/><path d="M1150.1 248.7L1141.5 263.9L1158.7 263.9Z" fill="#fff" stroke="#000" stroke-width="2.1" stroke-linejoin="miter"/><path d="M1177.5 356.2L1168.9 371.4L1186.0 371.4Z" fill="#fff" stroke="#000" stroke-width="2.1" stroke-linejoin="miter"/><path d="M1204.8 385.1L1196.2 400.3L1213.4 400.3Z" fill="#fff" stroke="#000" stroke-width="2.1" stroke-linejoin="miter"/><path d="M1232.2 403.1L1223.6 418.3L1240.8 418.3Z" fill="#fff" stroke="#000" stroke-width="2.1" stroke-linejoin="miter"/><path d="M1259.6 409.9L1251.0 425.1L1268.2 425.1Z" fill="#fff" stroke="#000" stroke-width="2.1" stroke-linejoin="miter"/><path d="M1286.9 413.5L1278.3 428.7L1295.5 428.7Z" fill="#fff" stroke="#000" stroke-width="2.1" stroke-linejoin="miter"/><path d="M1314.3 420.4L1305.7 435.6L1322.9 435.6Z" fill="#fff" stroke="#000" stroke-width="2.1" stroke-linejoin="miter"/></g>
<rect x="99.50" y="525.30" width="571.30" height="436.00" fill="none" stroke="#000" stroke-width="3.3"/>
<path d="M99.50 961.30V970.50M126.82 961.30V966.40M154.14 961.30V970.50M181.46 961.30V966.40M208.78 961.30V970.50M236.10 961.30V966.40M263.42 961.30V970.50M290.74 961.30V966.40M318.06 961.30V970.50M345.38 961.30V966.40M372.70 961.30V970.50M400.02 961.30V966.40M427.34 961.30V970.50M454.66 961.30V966.40M481.98 961.30V970.50M509.30 961.30V966.40M536.62 961.30V970.50M563.94 961.30V966.40M591.26 961.30V970.50M618.58 961.30V966.40M645.90 961.30V970.50M99.50 961.00H90.10M99.50 921.00H94.00M99.50 881.00H90.10M99.50 841.00H94.00M99.50 801.00H90.10M99.50 761.00H94.00M99.50 721.00H90.10M99.50 681.00H94.00M99.50 641.00H90.10M99.50 601.00H94.00M99.50 561.00H90.10" stroke="#000" stroke-width="3" fill="none"/>
<g font-family='"Liberation Serif", serif' font-size="29.8" fill="#000"><text transform="translate(99.5 995.6) scale(0.94 1)" text-anchor="middle">0</text><text transform="translate(154.1 995.6) scale(0.94 1)" text-anchor="middle">2</text><text transform="translate(208.8 995.6) scale(0.94 1)" text-anchor="middle">4</text><text transform="translate(263.4 995.6) scale(0.94 1)" text-anchor="middle">6</text><text transform="translate(318.1 995.6) scale(0.94 1)" text-anchor="middle">8</text><text transform="translate(372.7 995.6) scale(0.94 1)" text-anchor="middle">10</text><text transform="translate(427.3 995.6) scale(0.94 1)" text-anchor="middle">12</text><text transform="translate(482.0 995.6) scale(0.94 1)" text-anchor="middle">14</text><text transform="translate(536.6 995.6) scale(0.94 1)" text-anchor="middle">16</text><text transform="translate(591.3 995.6) scale(0.94 1)" text-anchor="middle">18</text><text transform="translate(645.9 995.6) scale(0.94 1)" text-anchor="middle">20</text><text transform="translate(86.5 968.2) scale(0.94 1)" text-anchor="end">0.0</text><text transform="translate(86.5 888.2) scale(0.94 1)" text-anchor="end">0.2</text><text transform="translate(86.5 808.2) scale(0.94 1)" text-anchor="end">0.4</text><text transform="translate(86.5 728.2) scale(0.94 1)" text-anchor="end">0.6</text><text transform="translate(86.5 648.2) scale(0.94 1)" text-anchor="end">0.8</text><text transform="translate(86.5 568.2) scale(0.94 1)" text-anchor="end">1.0</text></g>
<g stroke="#000" stroke-width="2.2" fill="none" stroke-linejoin="round"><path d="M99.5 961.0 L100.9 961.0 L102.2 960.9 L103.6 960.7 L105.0 960.4 L106.3 960.2 L107.7 959.8 L109.1 959.4 L110.4 959.0 L111.8 958.5 L113.2 958.1 L114.5 957.5 L115.9 957.0 L117.3 956.3 L118.6 955.5 L120.0 954.4 L121.4 953.2 L122.7 951.8 L124.1 950.3 L125.5 948.6 L126.8 946.8 L128.2 945.0 L129.6 943.0 L130.9 941.0 L132.3 939.0 L133.7 936.7 L135.0 934.1 L136.4 931.3 L137.7 928.2 L139.1 924.9 L140.5 921.4 L141.8 917.8 L143.2 914.0 L144.6 910.1 L145.9 906.1 L147.3 902.1 L148.7 898.0 L150.0 893.9 L151.4 889.8 L152.8 885.8 L154.1 881.8 L155.5 877.9 L156.9 874.0 L158.2 870.0 L159.6 865.9 L161.0 861.7 L162.3 857.3 L163.7 852.8 L165.1 848.0 L166.4 842.9 L167.8 837.5 L169.2 831.5 L170.5 824.8 L171.9 817.6 L173.3 810.1 L174.6 802.3 L176.0 794.3 L177.4 786.4 L178.7 778.5 L180.1 770.9 L181.5 763.6 L182.8 756.4 L184.2 749.2 L185.6 742.0 L186.9 734.7 L188.3 727.5 L189.7 720.4 L191.0 713.2 L192.4 706.2 L193.8 699.2 L195.1 692.2 L196.5 685.4 L197.9 678.7 L199.2 672.2 L200.6 665.7 L201.9 659.5 L203.3 653.3 L204.7 647.2 L206.0 641.1 L207.4 635.2 L208.8 629.4 L210.1 623.8 L211.5 618.5 L212.9 613.6 L214.2 609.0 L215.6 604.7 L217.0 600.4 L218.3 596.4 L219.7 592.8 L221.1 589.6 L222.4 587.0 L223.8 584.8 L225.2 582.7 L226.5 580.8 L227.9 579.2 L229.3 577.9 L230.6 577.0 L232.0 576.3 L233.4 575.6 L234.7 575.0 L236.1 574.5 L237.5 574.0 L238.8 573.5 L240.2 573.2 L241.6 572.9 L242.9 572.7 L244.3 572.6 L245.7 572.5 L247.0 572.5 L248.4 572.4 L249.8 572.4 L251.1 572.4 L252.5 572.3 L253.9 572.3 L255.2 572.3 L256.6 572.3 L258.0 572.2 L259.3 572.2 L260.7 572.2 L262.1 572.2 L263.4 572.2 L264.8 572.2 L266.2 572.2 L267.5 572.2 L268.9 572.2 L270.2 572.2 L271.6 572.2 L273.0 572.2 L274.3 572.2 L275.7 572.2 L277.1 572.2 L278.4 572.2 L279.8 572.2 L281.2 572.2 L282.5 572.2 L283.9 572.2 L285.3 572.2 L286.6 572.2 L288.0 572.2 L289.4 572.2 L290.7 572.2 L292.1 572.2 L293.5 572.2 L294.8 572.2 L296.2 572.2 L297.6 572.2 L298.9 572.2 L300.3 572.2 L301.7 572.2 L303.0 572.2 L304.4 572.2 L305.8 572.2 L307.1 572.2 L308.5 572.2 L309.9 572.2 L311.2 572.2 L312.6 572.2 L314.0 572.2 L315.3 572.2 L316.7 572.2 L318.1 572.2 L319.4 572.2 L320.8 572.2 L322.2 572.2 L323.5 572.2 L324.9 572.2 L326.3 572.2 L327.6 572.2 L329.0 572.2 L330.4 572.2 L331.7 572.2 L333.1 572.2 L334.5 572.2 L335.8 572.2 L337.2 572.2 L338.6 572.2 L339.9 572.2 L341.3 572.2 L342.6 572.2 L344.0 572.2 L345.4 572.2 L346.7 572.2 L348.1 572.2 L349.5 572.2 L350.8 572.2 L352.2 572.2 L353.6 572.2 L354.9 572.2 L356.3 572.2 L357.7 572.2 L359.0 572.2 L360.4 572.2 L361.8 572.2 L363.1 572.2 L364.5 572.2 L365.9 572.2 L367.2 572.2 L368.6 572.2 L370.0 572.2 L371.3 572.2 L372.7 572.2 L374.1 572.2 L375.4 572.2 L376.8 572.2 L378.2 572.2 L379.5 572.2 L380.9 572.2 L382.3 572.2 L383.6 572.2 L385.0 572.2 L386.4 572.2 L387.7 572.2 L389.1 572.2 L390.5 572.2 L391.8 572.2 L393.2 572.2 L394.6 572.2 L395.9 572.2 L397.3 572.2 L398.7 572.2 L400.0 572.2 L401.4 572.2 L402.8 572.2 L404.1 572.3 L405.5 572.4 L406.9 572.7 L408.2 573.1 L409.6 573.7 L410.9 574.3 L412.3 574.9 L413.7 575.7 L415.0 576.6 L416.4 577.5 L417.8 578.5 L419.1 579.5 L420.5 580.7 L421.9 581.8 L423.2 583.0 L424.6 584.5 L426.0 586.7 L427.3 589.3 L428.7 592.5 L430.1 596.0 L431.4 599.9 L432.8 604.0 L434.2 608.3 L435.5 612.7 L436.9 617.3 L438.3 621.8 L439.6 626.2 L441.0 630.5 L442.4 634.6 L443.7 638.6 L445.1 642.7 L446.5 646.8 L447.8 651.1 L449.2 655.4 L450.6 659.7 L451.9 664.2 L453.3 668.8 L454.7 673.6 L456.0 678.5 L457.4 683.5 L458.8 688.6 L460.1 693.8 L461.5 699.1 L462.9 704.4 L464.2 709.7 L465.6 715.0 L467.0 720.3 L468.3 725.5 L469.7 730.7 L471.1 735.7 L472.4 740.6 L473.8 745.4 L475.1 750.0 L476.5 754.4 L477.9 758.6 L479.2 762.6 L480.6 766.4 L482.0 770.2 L483.3 773.9 L484.7 777.5 L486.1 781.0 L487.4 784.5 L488.8 787.8 L490.2 791.2 L491.5 794.4 L492.9 797.7 L494.3 800.8 L495.6 803.9 L497.0 807.0 L498.4 810.1 L499.7 813.1 L501.1 816.1 L502.5 819.0 L503.8 822.0 L505.2 824.9 L506.6 827.8 L507.9 830.8 L509.3 833.7 L510.7 836.6 L512.0 839.6 L513.4 842.5 L514.8 845.4 L516.1 848.3 L517.5 851.2 L518.9 854.0 L520.2 856.8 L521.6 859.6 L523.0 862.3 L524.3 865.0 L525.7 867.6 L527.1 870.1 L528.4 872.5 L529.8 874.9 L531.2 877.2 L532.5 879.3 L533.9 881.4 L535.3 883.4 L536.6 885.3 L538.0 887.1 L539.4 889.0 L540.7 890.7 L542.1 892.4 L543.5 894.1 L544.8 895.8 L546.2 897.4 L547.5 898.9 L548.9 900.5 L550.3 901.9 L551.6 903.4 L553.0 904.8 L554.4 906.2 L555.7 907.5 L557.1 908.9 L558.5 910.2 L559.8 911.4 L561.2 912.6 L562.6 913.8 L563.9 915.0 L565.3 916.1 L566.7 917.3 L568.0 918.4 L569.4 919.5 L570.8 920.5 L572.1 921.6 L573.5 922.6 L574.9 923.6 L576.2 924.6 L577.6 925.5 L579.0 926.5 L580.3 927.4 L581.7 928.3 L583.1 929.1 L584.4 930.0 L585.8 930.8 L587.2 931.6 L588.5 932.3 L589.9 933.1 L591.3 933.8 L592.6 934.5 L594.0 935.2 L595.4 935.8 L596.7 936.5 L598.1 937.1 L599.5 937.7 L600.8 938.3 L602.2 938.9 L603.6 939.4 L604.9 940.0 L606.3 940.5 L607.7 941.1 L609.0 941.6 L610.4 942.1 L611.8 942.6 L613.1 943.1 L614.5 943.6 L615.8 944.1 L617.2 944.5 L618.6 945.0 L619.9 945.5 L621.3 945.9 L622.7 946.4 L624.0 946.8 L625.4 947.3 L626.8 947.7 L628.1 948.1 L629.5 948.5 L630.9 949.0 L632.2 949.4 L633.6 949.8 L635.0 950.2 L636.3 950.5 L637.7 950.9 L639.1 951.3 L640.4 951.6 L641.8 952.0 L643.2 952.3 L644.5 952.7 L645.9 953.0"/><path d="M99.5 961.0 L100.9 961.0 L102.2 960.9 L103.6 960.7 L105.0 960.5 L106.3 960.3 L107.7 960.0 L109.1 959.7 L110.4 959.3 L111.8 958.9 L113.2 958.4 L114.5 958.0 L115.9 957.5 L117.3 957.0 L118.6 956.4 L120.0 955.6 L121.4 954.6 L122.7 953.4 L124.1 952.1 L125.5 950.6 L126.8 949.1 L128.2 947.4 L129.6 945.6 L130.9 943.7 L132.3 941.8 L133.7 939.8 L135.0 937.7 L136.4 935.3 L137.7 932.5 L139.1 929.6 L140.5 926.4 L141.8 922.9 L143.2 919.4 L144.6 915.6 L145.9 911.7 L147.3 907.8 L148.7 903.7 L150.0 899.6 L151.4 895.5 L152.8 891.5 L154.1 887.4 L155.5 883.4 L156.9 879.5 L158.2 875.5 L159.6 871.6 L161.0 867.5 L162.3 863.4 L163.7 859.1 L165.1 854.6 L166.4 849.9 L167.8 845.0 L169.2 839.7 L170.5 834.0 L171.9 827.5 L173.3 820.6 L174.6 813.2 L176.0 805.4 L177.4 797.5 L178.7 789.5 L180.1 781.6 L181.5 773.9 L182.8 766.4 L184.2 759.3 L185.6 752.0 L186.9 744.8 L188.3 737.5 L189.7 730.2 L191.0 722.9 L192.4 715.7 L193.8 708.5 L195.1 701.4 L196.5 694.5 L197.9 687.6 L199.2 680.9 L200.6 674.3 L201.9 668.0 L203.3 661.8 L204.7 655.8 L206.0 650.0 L207.4 644.3 L208.8 638.7 L210.1 633.3 L211.5 628.1 L212.9 623.1 L214.2 618.3 L215.6 613.9 L217.0 609.6 L218.3 605.3 L219.7 601.2 L221.1 597.4 L222.4 594.1 L223.8 591.4 L225.2 589.3 L226.5 587.3 L227.9 585.5 L229.3 583.9 L230.6 582.5 L232.0 581.4 L233.4 580.5 L234.7 579.8 L236.1 579.3 L237.5 578.7 L238.8 578.2 L240.2 577.8 L241.6 577.4 L242.9 577.1 L244.3 576.9 L245.7 576.7 L247.0 576.6 L248.4 576.5 L249.8 576.5 L251.1 576.4 L252.5 576.4 L253.9 576.4 L255.2 576.3 L256.6 576.3 L258.0 576.3 L259.3 576.3 L260.7 576.2 L262.1 576.2 L263.4 576.2 L264.8 576.2 L266.2 576.2 L267.5 576.2 L268.9 576.2 L270.2 576.2 L271.6 576.2 L273.0 576.2 L274.3 576.2 L275.7 576.2 L277.1 576.2 L278.4 576.2 L279.8 576.2 L281.2 576.2 L282.5 576.2 L283.9 576.2 L285.3 576.2 L286.6 576.2 L288.0 576.2 L289.4 576.2 L290.7 576.2 L292.1 576.2 L293.5 576.2 L294.8 576.2 L296.2 576.2 L297.6 576.2 L298.9 576.2 L300.3 576.2 L301.7 576.2 L303.0 576.2 L304.4 576.2 L305.8 576.2 L307.1 576.2 L308.5 576.2 L309.9 576.2 L311.2 576.2 L312.6 576.2 L314.0 576.2 L315.3 576.2 L316.7 576.2 L318.1 576.2 L319.4 576.2 L320.8 576.2 L322.2 576.2 L323.5 576.2 L324.9 576.2 L326.3 576.2 L327.6 576.2 L329.0 576.2 L330.4 576.2 L331.7 576.2 L333.1 576.2 L334.5 576.2 L335.8 576.2 L337.2 576.2 L338.6 576.2 L339.9 576.2 L341.3 576.2 L342.6 576.2 L344.0 576.2 L345.4 576.2 L346.7 576.2 L348.1 576.2 L349.5 576.2 L350.8 576.2 L352.2 576.2 L353.6 576.2 L354.9 576.2 L356.3 576.2 L357.7 576.2 L359.0 576.2 L360.4 576.2 L361.8 576.2 L363.1 576.2 L364.5 576.2 L365.9 576.2 L367.2 576.2 L368.6 576.2 L370.0 576.2 L371.3 576.2 L372.7 576.2 L374.1 576.2 L375.4 576.2 L376.8 576.2 L378.2 576.2 L379.5 576.2 L380.9 576.2 L382.3 576.2 L383.6 576.2 L385.0 576.2 L386.4 576.2 L387.7 576.2 L389.1 576.2 L390.5 576.2 L391.8 576.2 L393.2 576.2 L394.6 576.2 L395.9 576.2 L397.3 576.2 L398.7 576.2 L400.0 576.2 L401.4 576.2 L402.8 576.2 L404.1 576.2 L405.5 576.2 L406.9 576.2 L408.2 576.2 L409.6 576.2 L410.9 576.2 L412.3 576.2 L413.7 576.3 L415.0 576.4 L416.4 576.8 L417.8 577.2 L419.1 577.7 L420.5 578.3 L421.9 579.0 L423.2 579.8 L424.6 580.6 L426.0 581.5 L427.3 582.5 L428.7 583.6 L430.1 584.7 L431.4 585.8 L432.8 587.3 L434.2 589.3 L435.5 591.9 L436.9 594.9 L438.3 598.4 L439.6 602.1 L441.0 606.1 L442.4 610.4 L443.7 614.7 L445.1 619.1 L446.5 623.6 L447.8 627.9 L449.2 632.2 L450.6 636.2 L451.9 640.2 L453.3 644.2 L454.7 648.4 L456.0 652.6 L457.4 656.9 L458.8 661.3 L460.1 665.8 L461.5 670.4 L462.9 675.2 L464.2 680.2 L465.6 685.2 L467.0 690.4 L468.3 695.7 L469.7 701.0 L471.1 706.3 L472.4 711.7 L473.8 717.0 L475.1 722.3 L476.5 727.6 L477.9 732.8 L479.2 737.9 L480.6 742.8 L482.0 747.7 L483.3 752.3 L484.7 756.8 L486.1 761.0 L487.4 765.1 L488.8 769.1 L490.2 773.0 L491.5 776.8 L492.9 780.6 L494.3 784.3 L495.6 788.0 L497.0 791.5 L498.4 795.0 L499.7 798.5 L501.1 801.9 L502.5 805.3 L503.8 808.6 L505.2 811.9 L506.6 815.1 L507.9 818.3 L509.3 821.5 L510.7 824.6 L512.0 827.8 L513.4 830.9 L514.8 834.0 L516.1 837.1 L517.5 840.2 L518.9 843.3 L520.2 846.4 L521.6 849.5 L523.0 852.5 L524.3 855.5 L525.7 858.4 L527.1 861.3 L528.4 864.1 L529.8 866.8 L531.2 869.4 L532.5 871.9 L533.9 874.4 L535.3 876.7 L536.6 878.9 L538.0 881.0 L539.4 883.0 L540.7 884.9 L542.1 886.8 L543.5 888.7 L544.8 890.5 L546.2 892.3 L547.5 894.0 L548.9 895.7 L550.3 897.3 L551.6 898.9 L553.0 900.4 L554.4 901.9 L555.7 903.3 L557.1 904.7 L558.5 906.0 L559.8 907.4 L561.2 908.6 L562.6 909.8 L563.9 911.0 L565.3 912.1 L566.7 913.2 L568.0 914.3 L569.4 915.4 L570.8 916.4 L572.1 917.5 L573.5 918.4 L574.9 919.4 L576.2 920.4 L577.6 921.3 L579.0 922.2 L580.3 923.0 L581.7 923.9 L583.1 924.7 L584.4 925.5 L585.8 926.2 L587.2 927.0 L588.5 927.7 L589.9 928.3 L591.3 929.0 L592.6 929.6 L594.0 930.3 L595.4 930.9 L596.7 931.5 L598.1 932.0 L599.5 932.6 L600.8 933.2 L602.2 933.7 L603.6 934.2 L604.9 934.8 L606.3 935.2 L607.7 935.7 L609.0 936.2 L610.4 936.6 L611.8 937.1 L613.1 937.5 L614.5 937.9 L615.8 938.3 L617.2 938.6 L618.6 939.0 L619.9 939.3 L621.3 939.7 L622.7 940.0 L624.0 940.3 L625.4 940.6 L626.8 941.0 L628.1 941.3 L629.5 941.5 L630.9 941.8 L632.2 942.1 L633.6 942.4 L635.0 942.6 L636.3 942.9 L637.7 943.1 L639.1 943.3 L640.4 943.5 L641.8 943.7 L643.2 943.9 L644.5 944.1 L645.9 944.2"/></g>
<g stroke="#6a6a6a" stroke-width="1.5" fill="none"><path d="M140.5 938.6V946.6M135.5 938.6H145.5M135.5 946.6H145.5"/><path d="M154.1 863.0V883.0M149.1 863.0H159.1M149.1 883.0H159.1"/><path d="M167.8 843.4V867.4M162.8 843.4H172.8M162.8 867.4H172.8"/><path d="M181.5 757.0V773.0M176.5 757.0H186.5M176.5 773.0H186.5"/><path d="M195.1 701.0V717.0M190.1 701.0H200.1M190.1 717.0H200.1"/><path d="M208.8 618.2V634.2M203.8 618.2H213.8M203.8 634.2H213.8"/><path d="M222.4 573.0V581.0M217.4 573.0H227.4M217.4 581.0H227.4"/><path d="M236.1 567.0V575.0M231.1 567.0H241.1M231.1 575.0H241.1"/><path d="M263.4 563.0V575.0M258.4 563.0H268.4M258.4 575.0H268.4"/><path d="M290.7 557.4V569.4M285.7 557.4H295.7M285.7 569.4H295.7"/><path d="M318.1 569.0V581.0M313.1 569.0H323.1M313.1 581.0H323.1"/><path d="M345.4 560.6V572.6M340.4 560.6H350.4M340.4 572.6H350.4"/><path d="M372.7 553.0V569.0M367.7 553.0H377.7M367.7 569.0H377.7"/><path d="M400.0 549.0V573.0M395.0 549.0H405.0M395.0 573.0H405.0"/><path d="M454.7 631.8V695.8M449.7 631.8H459.7M449.7 695.8H459.7"/><path d="M482.0 689.4V721.4M477.0 689.4H487.0M477.0 721.4H487.0"/><path d="M509.3 786.6V818.6M504.3 786.6H514.3M504.3 818.6H514.3"/><path d="M536.6 866.0V874.0M531.6 866.0H541.6M531.6 874.0H541.6"/><path d="M563.9 914.2V922.2M558.9 914.2H568.9M558.9 922.2H568.9"/><path d="M591.3 933.0V937.0M586.3 933.0H596.3M586.3 937.0H596.3"/><path d="M618.6 938.6V942.6M613.6 938.6H623.6M613.6 942.6H623.6"/><path d="M645.9 942.0V946.0M640.9 942.0H650.9M640.9 946.0H650.9"/><path d="M113.2 919.4V979.4M108.2 919.4H118.2M108.2 979.4H118.2"/><path d="M126.8 931.0V963.0M121.8 931.0H131.8M121.8 963.0H131.8"/><path d="M154.1 796.2V824.2M149.1 796.2H159.1M149.1 824.2H159.1"/><path d="M167.8 773.8V797.8M162.8 773.8H172.8M162.8 797.8H172.8"/><path d="M181.5 727.4V743.4M176.5 727.4H186.5M176.5 743.4H186.5"/><path d="M195.1 665.0V681.0M190.1 665.0H200.1M190.1 681.0H200.1"/><path d="M208.8 598.6V610.6M203.8 598.6H213.8M203.8 610.6H213.8"/><path d="M222.4 581.0V589.0M217.4 581.0H227.4M217.4 589.0H227.4"/><path d="M236.1 569.0V577.0M231.1 569.0H241.1M231.1 577.0H241.1"/><path d="M263.4 569.0V577.0M258.4 569.0H268.4M258.4 577.0H268.4"/><path d="M290.7 567.0V579.0M285.7 567.0H295.7M285.7 579.0H295.7"/><path d="M318.1 569.0V581.0M313.1 569.0H323.1M313.1 581.0H323.1"/><path d="M345.4 571.0V583.0M340.4 571.0H350.4M340.4 583.0H350.4"/><path d="M372.7 559.0V571.0M367.7 559.0H377.7M367.7 571.0H377.7"/><path d="M427.3 553.8V593.8M422.3 553.8H432.3M422.3 593.8H432.3"/><path d="M454.7 673.0V689.0M449.7 673.0H459.7M449.7 689.0H459.7"/><path d="M482.0 756.6V772.6M477.0 756.6H487.0M477.0 772.6H487.0"/><path d="M509.3 854.6V902.6M504.3 854.6H514.3M504.3 902.6H514.3"/><path d="M536.6 891.8V903.8M531.6 891.8H541.6M531.6 903.8H541.6"/><path d="M563.9 906.2V914.2M558.9 906.2H568.9M558.9 914.2H568.9"/><path d="M591.3 916.4V924.4M586.3 916.4H596.3M586.3 924.4H596.3"/><path d="M618.6 921.0V929.0M613.6 921.0H623.6M613.6 929.0H623.6"/><path d="M645.9 926.6V934.6M640.9 926.6H650.9M640.9 934.6H650.9"/><path d="M140.5 941.0V949.0M135.5 941.0H145.5M135.5 949.0H145.5"/><path d="M154.1 833.0V849.0M149.1 833.0H159.1M149.1 849.0H159.1"/><path d="M167.8 793.0V809.0M162.8 793.0H172.8M162.8 809.0H172.8"/><path d="M181.5 752.2V768.2M176.5 752.2H186.5M176.5 768.2H186.5"/><path d="M195.1 663.0V679.0M190.1 663.0H200.1M190.1 679.0H200.1"/><path d="M208.8 612.6V628.6M203.8 612.6H213.8M203.8 628.6H213.8"/><path d="M222.4 566.6V582.6M217.4 566.6H227.4M217.4 582.6H227.4"/><path d="M236.1 558.6V574.6M231.1 558.6H241.1M231.1 574.6H241.1"/><path d="M263.4 561.0V573.0M258.4 561.0H268.4M258.4 573.0H268.4"/><path d="M290.7 562.2V574.2M285.7 562.2H295.7M285.7 574.2H295.7"/><path d="M318.1 568.6V580.6M313.1 568.6H323.1M313.1 580.6H323.1"/><path d="M345.4 565.0V577.0M340.4 565.0H350.4M340.4 577.0H350.4"/><path d="M372.7 563.8V579.8M367.7 563.8H377.7M367.7 579.8H377.7"/><path d="M400.0 567.8V583.8M395.0 567.8H405.0M395.0 583.8H405.0"/><path d="M427.3 581.8V597.8M422.3 581.8H432.3M422.3 597.8H432.3"/><path d="M454.7 671.0V687.0M449.7 671.0H459.7M449.7 687.0H459.7"/><path d="M482.0 773.0V805.0M477.0 773.0H487.0M477.0 805.0H487.0"/><path d="M509.3 830.6V846.6M504.3 830.6H514.3M504.3 846.6H514.3"/><path d="M536.6 867.6V883.6M531.6 867.6H541.6M531.6 883.6H541.6"/><path d="M563.9 896.2V904.2M558.9 896.2H568.9M558.9 904.2H568.9"/><path d="M591.3 899.6V907.6M586.3 899.6H596.3M586.3 907.6H596.3"/><path d="M618.6 917.4V925.4M613.6 917.4H623.6M613.6 925.4H623.6"/><path d="M645.9 916.4V924.4M640.9 916.4H650.9M640.9 924.4H650.9"/></g>
<g><circle cx="113.2" cy="953.0" r="7.0" fill="#fff" stroke="#000" stroke-width="2.2"/><circle cx="126.8" cy="949.0" r="7.0" fill="#fff" stroke="#000" stroke-width="2.2"/><circle cx="140.5" cy="942.6" r="7.0" fill="#fff" stroke="#000" stroke-width="2.2"/><circle cx="154.1" cy="873.0" r="7.0" fill="#fff" stroke="#000" stroke-width="2.2"/><circle cx="167.8" cy="855.4" r="7.0" fill="#fff" stroke="#000" stroke-width="2.2"/><circle cx="181.5" cy="765.0" r="7.0" fill="#fff" stroke="#000" stroke-width="2.2"/><circle cx="195.1" cy="709.0" r="7.0" fill="#fff" stroke="#000" stroke-width="2.2"/><circle cx="208.8" cy="626.2" r="7.0" fill="#fff" stroke="#000" stroke-width="2.2"/><circle cx="222.4" cy="577.0" r="7.0" fill="#fff" stroke="#000" stroke-width="2.2"/><circle cx="236.1" cy="571.0" r="7.0" fill="#fff" stroke="#000" stroke-width="2.2"/><circle cx="263.4" cy="569.0" r="7.0" fill="#fff" stroke="#000" stroke-width="2.2"/><circle cx="290.7" cy="563.4" r="7.0" fill="#fff" stroke="#000" stroke-width="2.2"/><circle cx="318.1" cy="575.0" r="7.0" fill="#fff" stroke="#000" stroke-width="2.2"/><circle cx="345.4" cy="566.6" r="7.0" fill="#fff" stroke="#000" stroke-width="2.2"/><circle cx="372.7" cy="561.0" r="7.0" fill="#fff" stroke="#000" stroke-width="2.2"/><circle cx="400.0" cy="561.0" r="7.0" fill="#fff" stroke="#000" stroke-width="2.2"/><circle cx="427.3" cy="627.0" r="7.0" fill="#fff" stroke="#000" stroke-width="2.2"/><circle cx="454.7" cy="663.8" r="7.0" fill="#fff" stroke="#000" stroke-width="2.2"/><circle cx="482.0" cy="705.4" r="7.0" fill="#fff" stroke="#000" stroke-width="2.2"/><circle cx="509.3" cy="802.6" r="7.0" fill="#fff" stroke="#000" stroke-width="2.2"/><circle cx="536.6" cy="870.0" r="7.0" fill="#fff" stroke="#000" stroke-width="2.2"/><circle cx="563.9" cy="918.2" r="7.0" fill="#fff" stroke="#000" stroke-width="2.2"/><circle cx="591.3" cy="935.0" r="7.0" fill="#fff" stroke="#000" stroke-width="2.2"/><circle cx="618.6" cy="940.6" r="7.0" fill="#fff" stroke="#000" stroke-width="2.2"/><circle cx="645.9" cy="944.0" r="7.0" fill="#fff" stroke="#000" stroke-width="2.2"/><circle cx="113.2" cy="949.4" r="8.2" fill="#000"/><circle cx="126.8" cy="947.0" r="8.2" fill="#000"/><circle cx="140.5" cy="949.0" r="8.2" fill="#000"/><circle cx="154.1" cy="810.2" r="8.2" fill="#000"/><circle cx="167.8" cy="785.8" r="8.2" fill="#000"/><circle cx="181.5" cy="735.4" r="8.2" fill="#000"/><circle cx="195.1" cy="673.0" r="8.2" fill="#000"/><circle cx="208.8" cy="604.6" r="8.2" fill="#000"/><circle cx="222.4" cy="585.0" r="8.2" fill="#000"/><circle cx="236.1" cy="573.0" r="8.2" fill="#000"/><circle cx="263.4" cy="573.0" r="8.2" fill="#000"/><circle cx="290.7" cy="573.0" r="8.2" fill="#000"/><circle cx="318.1" cy="575.0" r="8.2" fill="#000"/><circle cx="345.4" cy="577.0" r="8.2" fill="#000"/><circle cx="372.7" cy="565.0" r="8.2" fill="#000"/><circle cx="400.0" cy="575.0" r="8.2" fill="#000"/><circle cx="427.3" cy="573.8" r="8.2" fill="#000"/><circle cx="454.7" cy="681.0" r="8.2" fill="#000"/><circle cx="482.0" cy="764.6" r="8.2" fill="#000"/><circle cx="509.3" cy="878.6" r="8.2" fill="#000"/><circle cx="536.6" cy="897.8" r="8.2" fill="#000"/><circle cx="563.9" cy="910.2" r="8.2" fill="#000"/><circle cx="591.3" cy="920.4" r="8.2" fill="#000"/><circle cx="618.6" cy="925.0" r="8.2" fill="#000"/><circle cx="645.9" cy="930.6" r="8.2" fill="#000"/><path d="M113.2 944.0L104.6 959.2L121.8 959.2Z" fill="#fff" stroke="#000" stroke-width="2.1" stroke-linejoin="miter"/><path d="M126.8 941.2L118.2 956.4L135.4 956.4Z" fill="#fff" stroke="#000" stroke-width="2.1" stroke-linejoin="miter"/><path d="M140.5 936.0L131.9 951.2L149.1 951.2Z" fill="#fff" stroke="#000" stroke-width="2.1" stroke-linejoin="miter"/><path d="M154.1 832.0L145.5 847.2L162.7 847.2Z" fill="#fff" stroke="#000" stroke-width="2.1" stroke-linejoin="miter"/><path d="M167.8 792.0L159.2 807.2L176.4 807.2Z" fill="#fff" stroke="#000" stroke-width="2.1" stroke-linejoin="miter"/><path d="M181.5 751.2L172.9 766.4L190.1 766.4Z" fill="#fff" stroke="#000" stroke-width="2.1" stroke-linejoin="miter"/><path d="M195.1 662.0L186.5 677.2L203.7 677.2Z" fill="#fff" stroke="#000" stroke-width="2.1" stroke-linejoin="miter"/><path d="M208.8 611.6L200.2 626.8L217.4 626.8Z" fill="#fff" stroke="#000" stroke-width="2.1" stroke-linejoin="miter"/><path d="M222.4 565.6L213.8 580.8L231.0 580.8Z" fill="#fff" stroke="#000" stroke-width="2.1" stroke-linejoin="miter"/><path d="M236.1 557.6L227.5 572.8L244.7 572.8Z" fill="#fff" stroke="#000" stroke-width="2.1" stroke-linejoin="miter"/><path d="M263.4 558.0L254.8 573.2L272.0 573.2Z" fill="#fff" stroke="#000" stroke-width="2.1" stroke-linejoin="miter"/><path d="M290.7 559.2L282.1 574.4L299.3 574.4Z" fill="#fff" stroke="#000" stroke-width="2.1" stroke-linejoin="miter"/><path d="M318.1 565.6L309.5 580.8L326.7 580.8Z" fill="#fff" stroke="#000" stroke-width="2.1" stroke-linejoin="miter"/><path d="M345.4 562.0L336.8 577.2L354.0 577.2Z" fill="#fff" stroke="#000" stroke-width="2.1" stroke-linejoin="miter"/><path d="M372.7 562.8L364.1 578.0L381.3 578.0Z" fill="#fff" stroke="#000" stroke-width="2.1" stroke-linejoin="miter"/><path d="M400.0 566.8L391.4 582.0L408.6 582.0Z" fill="#fff" stroke="#000" stroke-width="2.1" stroke-linejoin="miter"/><path d="M427.3 580.8L418.7 596.0L435.9 596.0Z" fill="#fff" stroke="#000" stroke-width="2.1" stroke-linejoin="miter"/><path d="M454.7 670.0L446.1 685.2L463.3 685.2Z" fill="#fff" stroke="#000" stroke-width="2.1" stroke-linejoin="miter"/><path d="M482.0 780.0L473.4 795.2L490.6 795.2Z" fill="#fff" stroke="#000" stroke-width="2.1" stroke-linejoin="miter"/><path d="M509.3 829.6L500.7 844.8L517.9 844.8Z" fill="#fff" stroke="#000" stroke-width="2.1" stroke-linejoin="miter"/><path d="M536.6 866.6L528.0 881.8L545.2 881.8Z" fill="#fff" stroke="#000" stroke-width="2.1" stroke-linejoin="miter"/><path d="M563.9 891.2L555.3 906.4L572.5 906.4Z" fill="#fff" stroke="#000" stroke-width="2.1" stroke-linejoin="miter"/><path d="M591.3 894.6L582.7 909.8L599.9 909.8Z" fill="#fff" stroke="#000" stroke-width="2.1" stroke-linejoin="miter"/><path d="M618.6 912.4L610.0 927.6L627.2 927.6Z" fill="#fff" stroke="#000" stroke-width="2.1" stroke-linejoin="miter"/><path d="M645.9 911.4L637.3 926.6L654.5 926.6Z" fill="#fff" stroke="#000" stroke-width="2.1" stroke-linejoin="miter"/></g>
<rect x="768.70" y="525.40" width="573.50" height="435.70" fill="none" stroke="#000" stroke-width="3.3"/>
<path d="M768.40 961.10V970.30M795.86 961.10V966.20M823.32 961.10V970.30M850.78 961.10V966.20M878.24 961.10V970.30M905.70 961.10V966.20M933.16 961.10V970.30M960.62 961.10V966.20M988.08 961.10V970.30M1015.54 961.10V966.20M1043.00 961.10V970.30M1070.46 961.10V966.20M1097.92 961.10V970.30M1125.38 961.10V966.20M1152.84 961.10V970.30M1180.30 961.10V966.20M1207.76 961.10V970.30M1235.22 961.10V966.20M1262.68 961.10V970.30M1290.14 961.10V966.20M1317.60 961.10V970.30M768.70 961.30H759.30M768.70 921.30H763.20M768.70 881.30H759.30M768.70 841.30H763.20M768.70 801.30H759.30M768.70 761.30H763.20M768.70 721.30H759.30M768.70 681.30H763.20M768.70 641.30H759.30M768.70 601.30H763.20M768.70 561.30H759.30" stroke="#000" stroke-width="3" fill="none"/>
<g font-family='"Liberation Serif", serif' font-size="29.8" fill="#000"><text transform="translate(768.4 995.4) scale(0.94 1)" text-anchor="middle">0</text><text transform="translate(823.3 995.4) scale(0.94 1)" text-anchor="middle">2</text><text transform="translate(878.2 995.4) scale(0.94 1)" text-anchor="middle">4</text><text transform="translate(933.2 995.4) scale(0.94 1)" text-anchor="middle">6</text><text transform="translate(988.1 995.4) scale(0.94 1)" text-anchor="middle">8</text><text transform="translate(1043.0 995.4) scale(0.94 1)" text-anchor="middle">10</text><text transform="translate(1097.9 995.4) scale(0.94 1)" text-anchor="middle">12</text><text transform="translate(1152.8 995.4) scale(0.94 1)" text-anchor="middle">14</text><text transform="translate(1207.8 995.4) scale(0.94 1)" text-anchor="middle">16</text><text transform="translate(1262.7 995.4) scale(0.94 1)" text-anchor="middle">18</text><text transform="translate(1317.6 995.4) scale(0.94 1)" text-anchor="middle">20</text><text transform="translate(755.7 968.5) scale(0.94 1)" text-anchor="end">0.0</text><text transform="translate(755.7 888.5) scale(0.94 1)" text-anchor="end">0.2</text><text transform="translate(755.7 808.5) scale(0.94 1)" text-anchor="end">0.4</text><text transform="translate(755.7 728.5) scale(0.94 1)" text-anchor="end">0.6</text><text transform="translate(755.7 648.5) scale(0.94 1)" text-anchor="end">0.8</text><text transform="translate(755.7 568.5) scale(0.94 1)" text-anchor="end">1.0</text></g>
<g stroke="#000" stroke-width="2.2" fill="none" stroke-linejoin="round"><path d="M768.4 961.3 L769.8 961.0 L771.1 960.2 L772.5 958.9 L773.9 957.3 L775.3 955.3 L776.6 953.0 L778.0 950.6 L779.4 948.0 L780.8 945.3 L782.1 942.0 L783.5 937.7 L784.9 932.5 L786.2 926.6 L787.6 920.3 L789.0 913.6 L790.4 906.8 L791.7 900.1 L793.1 893.6 L794.5 887.5 L795.9 882.0 L797.2 876.8 L798.6 871.6 L800.0 866.5 L801.4 861.5 L802.7 856.4 L804.1 851.3 L805.5 846.1 L806.8 840.8 L808.2 835.2 L809.6 829.4 L811.0 823.4 L812.3 817.1 L813.7 810.7 L815.1 804.1 L816.5 797.5 L817.8 790.9 L819.2 784.4 L820.6 778.0 L821.9 771.9 L823.3 765.9 L824.7 760.3 L826.1 754.7 L827.4 749.2 L828.8 743.8 L830.2 738.5 L831.6 733.2 L832.9 728.0 L834.3 722.9 L835.7 717.9 L837.0 713.0 L838.4 708.2 L839.8 703.5 L841.2 698.9 L842.5 694.5 L843.9 690.2 L845.3 686.0 L846.7 681.9 L848.0 678.0 L849.4 674.2 L850.8 670.5 L852.2 666.9 L853.5 663.3 L854.9 659.8 L856.3 656.3 L857.6 652.8 L859.0 649.2 L860.4 645.7 L861.8 642.0 L863.1 638.3 L864.5 634.4 L865.9 630.5 L867.3 626.5 L868.6 622.6 L870.0 618.7 L871.4 615.0 L872.7 611.5 L874.1 608.2 L875.5 605.3 L876.9 602.6 L878.2 600.0 L879.6 597.4 L881.0 595.0 L882.4 592.7 L883.7 590.5 L885.1 588.4 L886.5 586.6 L887.9 584.8 L889.2 583.3 L890.6 581.9 L892.0 580.5 L893.3 579.2 L894.7 578.0 L896.1 576.8 L897.5 575.8 L898.8 574.8 L900.2 573.9 L901.6 573.1 L903.0 572.5 L904.3 571.9 L905.7 571.3 L907.1 570.8 L908.4 570.3 L909.8 569.8 L911.2 569.4 L912.6 569.0 L913.9 568.7 L915.3 568.6 L916.7 568.5 L918.1 568.5 L919.4 568.5 L920.8 568.5 L922.2 568.5 L923.5 568.5 L924.9 568.4 L926.3 568.4 L927.7 568.4 L929.0 568.4 L930.4 568.4 L931.8 568.4 L933.2 568.4 L934.5 568.4 L935.9 568.4 L937.3 568.4 L938.7 568.4 L940.0 568.3 L941.4 568.3 L942.8 568.3 L944.1 568.3 L945.5 568.3 L946.9 568.3 L948.3 568.3 L949.6 568.3 L951.0 568.3 L952.4 568.3 L953.8 568.3 L955.1 568.3 L956.5 568.3 L957.9 568.3 L959.2 568.3 L960.6 568.2 L962.0 568.2 L963.4 568.2 L964.7 568.2 L966.1 568.2 L967.5 568.2 L968.9 568.2 L970.2 568.2 L971.6 568.2 L973.0 568.2 L974.4 568.2 L975.7 568.2 L977.1 568.2 L978.5 568.2 L979.8 568.2 L981.2 568.2 L982.6 568.2 L984.0 568.2 L985.3 568.2 L986.7 568.2 L988.1 568.2 L989.5 568.2 L990.8 568.2 L992.2 568.2 L993.6 568.2 L994.9 568.1 L996.3 568.1 L997.7 568.1 L999.1 568.1 L1000.4 568.1 L1001.8 568.1 L1003.2 568.1 L1004.6 568.1 L1005.9 568.1 L1007.3 568.1 L1008.7 568.1 L1010.0 568.1 L1011.4 568.1 L1012.8 568.1 L1014.2 568.1 L1015.5 568.1 L1016.9 568.1 L1018.3 568.1 L1019.7 568.1 L1021.0 568.1 L1022.4 568.1 L1023.8 568.1 L1025.2 568.1 L1026.5 568.1 L1027.9 568.1 L1029.3 568.1 L1030.6 568.1 L1032.0 568.1 L1033.4 568.1 L1034.8 568.1 L1036.1 568.1 L1037.5 568.1 L1038.9 568.1 L1040.3 568.1 L1041.6 568.1 L1043.0 568.1 L1044.4 568.1 L1045.7 568.1 L1047.1 568.1 L1048.5 568.1 L1049.9 568.1 L1051.2 568.1 L1052.6 568.1 L1054.0 568.1 L1055.4 568.1 L1056.7 568.1 L1058.1 568.1 L1059.5 568.1 L1060.8 568.2 L1062.2 568.4 L1063.6 568.7 L1065.0 569.0 L1066.3 569.5 L1067.7 570.1 L1069.1 570.7 L1070.5 571.3 L1071.8 572.1 L1073.2 573.3 L1074.6 574.8 L1076.0 576.5 L1077.3 578.5 L1078.7 580.8 L1080.1 583.2 L1081.4 585.8 L1082.8 588.5 L1084.2 591.3 L1085.6 594.6 L1086.9 598.7 L1088.3 603.4 L1089.7 608.5 L1091.1 614.0 L1092.4 619.7 L1093.8 625.4 L1095.2 631.0 L1096.5 636.4 L1097.9 641.3 L1099.3 645.9 L1100.7 650.4 L1102.0 654.9 L1103.4 659.3 L1104.8 663.6 L1106.2 667.8 L1107.5 672.0 L1108.9 676.2 L1110.3 680.3 L1111.7 684.5 L1113.0 688.6 L1114.4 692.7 L1115.8 696.8 L1117.1 701.0 L1118.5 705.2 L1119.9 709.4 L1121.3 713.7 L1122.6 718.0 L1124.0 722.4 L1125.4 726.9 L1126.8 731.4 L1128.1 736.1 L1129.5 741.0 L1130.9 745.9 L1132.2 751.0 L1133.6 756.2 L1135.0 761.4 L1136.4 766.6 L1137.7 771.9 L1139.1 777.0 L1140.5 782.2 L1141.9 787.2 L1143.2 792.0 L1144.6 796.8 L1146.0 801.3 L1147.3 805.7 L1148.7 810.1 L1150.1 814.4 L1151.5 818.7 L1152.8 822.9 L1154.2 826.9 L1155.6 830.9 L1157.0 834.7 L1158.3 838.4 L1159.7 841.9 L1161.1 845.3 L1162.5 848.5 L1163.8 851.7 L1165.2 854.7 L1166.6 857.7 L1167.9 860.6 L1169.3 863.4 L1170.7 866.2 L1172.1 868.8 L1173.4 871.4 L1174.8 874.0 L1176.2 876.4 L1177.6 878.8 L1178.9 881.1 L1180.3 883.3 L1181.7 885.5 L1183.0 887.6 L1184.4 889.8 L1185.8 891.9 L1187.2 894.0 L1188.5 896.1 L1189.9 898.1 L1191.3 900.0 L1192.7 902.0 L1194.0 903.9 L1195.4 905.7 L1196.8 907.5 L1198.1 909.2 L1199.5 910.9 L1200.9 912.5 L1202.3 914.0 L1203.6 915.4 L1205.0 916.8 L1206.4 918.1 L1207.8 919.3 L1209.1 920.5 L1210.5 921.6 L1211.9 922.7 L1213.3 923.8 L1214.6 924.8 L1216.0 925.8 L1217.4 926.8 L1218.7 927.8 L1220.1 928.7 L1221.5 929.6 L1222.9 930.5 L1224.2 931.3 L1225.6 932.1 L1227.0 932.8 L1228.4 933.5 L1229.7 934.2 L1231.1 934.8 L1232.5 935.4 L1233.8 936.0 L1235.2 936.5 L1236.6 937.0 L1238.0 937.5 L1239.3 937.9 L1240.7 938.4 L1242.1 938.8 L1243.5 939.2 L1244.8 939.7 L1246.2 940.0 L1247.6 940.4 L1249.0 940.8 L1250.3 941.1 L1251.7 941.5 L1253.1 941.8 L1254.4 942.1 L1255.8 942.3 L1257.2 942.6 L1258.6 942.8 L1259.9 943.0 L1261.3 943.2 L1262.7 943.3 L1264.1 943.4 L1265.4 943.6 L1266.8 943.7 L1268.2 943.8 L1269.5 943.9 L1270.9 944.0 L1272.3 944.1 L1273.7 944.2 L1275.0 944.3 L1276.4 944.4 L1277.8 944.5 L1279.2 944.6 L1280.5 944.7 L1281.9 944.7 L1283.3 944.8 L1284.6 944.8 L1286.0 944.9 L1287.4 944.9 L1288.8 944.9 L1290.1 944.9 L1291.5 944.9 L1292.9 944.9 L1294.3 944.9 L1295.6 944.9 L1297.0 944.9 L1298.4 944.9 L1299.8 944.9 L1301.1 944.9 L1302.5 944.9 L1303.9 944.9 L1305.2 944.9 L1306.6 944.9 L1308.0 944.9 L1309.4 944.9 L1310.7 944.9 L1312.1 944.9 L1313.5 944.9 L1314.9 944.9 L1316.2 944.9 L1317.6 944.9"/><path d="M768.4 961.3 L769.8 961.1 L771.1 960.6 L772.5 959.8 L773.9 958.7 L775.3 957.3 L776.6 955.7 L778.0 953.9 L779.4 951.9 L780.8 949.8 L782.1 947.6 L783.5 945.3 L784.9 942.3 L786.2 938.2 L787.6 933.0 L789.0 927.1 L790.4 920.7 L791.7 913.9 L793.1 907.0 L794.5 900.2 L795.9 893.6 L797.2 887.6 L798.6 882.0 L800.0 876.8 L801.4 871.6 L802.7 866.5 L804.1 861.5 L805.5 856.4 L806.8 851.3 L808.2 846.1 L809.6 840.8 L811.0 835.2 L812.3 829.4 L813.7 823.4 L815.1 817.1 L816.5 810.7 L817.8 804.1 L819.2 797.5 L820.6 790.9 L821.9 784.4 L823.3 778.0 L824.7 771.9 L826.1 765.9 L827.4 760.3 L828.8 754.7 L830.2 749.2 L831.6 743.8 L832.9 738.5 L834.3 733.2 L835.7 728.0 L837.0 722.9 L838.4 717.9 L839.8 713.0 L841.2 708.2 L842.5 703.5 L843.9 698.9 L845.3 694.5 L846.7 690.2 L848.0 686.0 L849.4 681.9 L850.8 678.0 L852.2 674.2 L853.5 670.5 L854.9 666.9 L856.3 663.3 L857.6 659.8 L859.0 656.3 L860.4 652.8 L861.8 649.2 L863.1 645.7 L864.5 642.0 L865.9 638.3 L867.3 634.4 L868.6 630.4 L870.0 626.4 L871.4 622.4 L872.7 618.5 L874.1 614.8 L875.5 611.3 L876.9 608.1 L878.2 605.3 L879.6 602.8 L881.0 600.3 L882.4 598.0 L883.7 595.8 L885.1 593.8 L886.5 591.8 L887.9 590.0 L889.2 588.3 L890.6 586.7 L892.0 585.3 L893.3 583.9 L894.7 582.6 L896.1 581.4 L897.5 580.2 L898.8 579.0 L900.2 578.0 L901.6 577.0 L903.0 576.2 L904.3 575.5 L905.7 574.9 L907.1 574.4 L908.4 573.9 L909.8 573.4 L911.2 573.0 L912.6 572.5 L913.9 572.1 L915.3 571.8 L916.7 571.5 L918.1 571.3 L919.4 571.1 L920.8 570.9 L922.2 570.9 L923.5 570.9 L924.9 570.9 L926.3 570.9 L927.7 570.9 L929.0 570.9 L930.4 570.8 L931.8 570.8 L933.2 570.8 L934.5 570.8 L935.9 570.8 L937.3 570.8 L938.7 570.8 L940.0 570.8 L941.4 570.8 L942.8 570.8 L944.1 570.8 L945.5 570.7 L946.9 570.7 L948.3 570.7 L949.6 570.7 L951.0 570.7 L952.4 570.7 L953.8 570.7 L955.1 570.7 L956.5 570.7 L957.9 570.7 L959.2 570.7 L960.6 570.7 L962.0 570.7 L963.4 570.7 L964.7 570.7 L966.1 570.6 L967.5 570.6 L968.9 570.6 L970.2 570.6 L971.6 570.6 L973.0 570.6 L974.4 570.6 L975.7 570.6 L977.1 570.6 L978.5 570.6 L979.8 570.6 L981.2 570.6 L982.6 570.6 L984.0 570.6 L985.3 570.6 L986.7 570.6 L988.1 570.6 L989.5 570.6 L990.8 570.6 L992.2 570.6 L993.6 570.6 L994.9 570.6 L996.3 570.6 L997.7 570.6 L999.1 570.6 L1000.4 570.5 L1001.8 570.5 L1003.2 570.5 L1004.6 570.5 L1005.9 570.5 L1007.3 570.5 L1008.7 570.5 L1010.0 570.5 L1011.4 570.5 L1012.8 570.5 L1014.2 570.5 L1015.5 570.5 L1016.9 570.5 L1018.3 570.5 L1019.7 570.5 L1021.0 570.5 L1022.4 570.5 L1023.8 570.5 L1025.2 570.5 L1026.5 570.5 L1027.9 570.5 L1029.3 570.5 L1030.6 570.5 L1032.0 570.5 L1033.4 570.5 L1034.8 570.5 L1036.1 570.5 L1037.5 570.5 L1038.9 570.5 L1040.3 570.5 L1041.6 570.5 L1043.0 570.5 L1044.4 570.5 L1045.7 570.5 L1047.1 570.5 L1048.5 570.5 L1049.9 570.5 L1051.2 570.5 L1052.6 570.5 L1054.0 570.5 L1055.4 570.5 L1056.7 570.5 L1058.1 570.5 L1059.5 570.5 L1060.8 570.5 L1062.2 570.5 L1063.6 570.6 L1065.0 570.8 L1066.3 571.1 L1067.7 571.6 L1069.1 572.1 L1070.5 572.7 L1071.8 573.4 L1073.2 574.1 L1074.6 575.0 L1076.0 576.3 L1077.3 577.8 L1078.7 579.7 L1080.1 581.8 L1081.4 584.2 L1082.8 586.7 L1084.2 589.5 L1085.6 592.3 L1086.9 595.3 L1088.3 598.8 L1089.7 603.2 L1091.1 608.2 L1092.4 613.7 L1093.8 619.4 L1095.2 625.3 L1096.5 631.0 L1097.9 636.4 L1099.3 641.3 L1100.7 645.8 L1102.0 650.3 L1103.4 654.6 L1104.8 658.9 L1106.2 663.1 L1107.5 667.2 L1108.9 671.3 L1110.3 675.3 L1111.7 679.3 L1113.0 683.2 L1114.4 687.1 L1115.8 691.0 L1117.1 694.8 L1118.5 698.7 L1119.9 702.5 L1121.3 706.4 L1122.6 710.2 L1124.0 714.1 L1125.4 718.0 L1126.8 722.0 L1128.1 726.0 L1129.5 730.0 L1130.9 734.1 L1132.2 738.3 L1133.6 742.6 L1135.0 746.9 L1136.4 751.2 L1137.7 755.6 L1139.1 760.0 L1140.5 764.4 L1141.9 768.8 L1143.2 773.1 L1144.6 777.4 L1146.0 781.7 L1147.3 785.8 L1148.7 789.9 L1150.1 793.8 L1151.5 797.6 L1152.8 801.3 L1154.2 804.9 L1155.6 808.3 L1157.0 811.7 L1158.3 815.1 L1159.7 818.3 L1161.1 821.5 L1162.5 824.5 L1163.8 827.5 L1165.2 830.5 L1166.6 833.3 L1167.9 836.1 L1169.3 838.8 L1170.7 841.4 L1172.1 844.0 L1173.4 846.6 L1174.8 849.1 L1176.2 851.5 L1177.6 853.9 L1178.9 856.3 L1180.3 858.6 L1181.7 860.9 L1183.0 863.1 L1184.4 865.3 L1185.8 867.5 L1187.2 869.6 L1188.5 871.7 L1189.9 873.8 L1191.3 875.9 L1192.7 878.0 L1194.0 880.0 L1195.4 882.0 L1196.8 883.9 L1198.1 885.8 L1199.5 887.7 L1200.9 889.5 L1202.3 891.3 L1203.6 893.0 L1205.0 894.7 L1206.4 896.3 L1207.8 897.8 L1209.1 899.4 L1210.5 900.9 L1211.9 902.4 L1213.3 903.8 L1214.6 905.3 L1216.0 906.7 L1217.4 908.1 L1218.7 909.5 L1220.1 910.8 L1221.5 912.2 L1222.9 913.5 L1224.2 914.8 L1225.6 916.0 L1227.0 917.3 L1228.4 918.5 L1229.7 919.7 L1231.1 920.8 L1232.5 922.0 L1233.8 923.1 L1235.2 924.2 L1236.6 925.3 L1238.0 926.3 L1239.3 927.3 L1240.7 928.3 L1242.1 929.3 L1243.5 930.2 L1244.8 931.2 L1246.2 932.2 L1247.6 933.1 L1249.0 934.0 L1250.3 934.9 L1251.7 935.7 L1253.1 936.6 L1254.4 937.4 L1255.8 938.1 L1257.2 938.9 L1258.6 939.5 L1259.9 940.2 L1261.3 940.8 L1262.7 941.3 L1264.1 941.8 L1265.4 942.3 L1266.8 942.7 L1268.2 943.2 L1269.5 943.6 L1270.9 944.0 L1272.3 944.4 L1273.7 944.8 L1275.0 945.2 L1276.4 945.5 L1277.8 945.9 L1279.2 946.2 L1280.5 946.5 L1281.9 946.8 L1283.3 947.1 L1284.6 947.4 L1286.0 947.7 L1287.4 948.0 L1288.8 948.2 L1290.1 948.5 L1291.5 948.8 L1292.9 949.0 L1294.3 949.3 L1295.6 949.5 L1297.0 949.7 L1298.4 950.0 L1299.8 950.2 L1301.1 950.4 L1302.5 950.6 L1303.9 950.8 L1305.2 951.0 L1306.6 951.2 L1308.0 951.4 L1309.4 951.6 L1310.7 951.8 L1312.1 951.9 L1313.5 952.1 L1314.9 952.2 L1316.2 952.4 L1317.6 952.5"/><path d="M768.4 961.3 L769.8 961.2 L771.1 960.8 L772.5 960.2 L773.9 959.3 L775.3 958.3 L776.6 957.1 L778.0 955.6 L779.4 954.1 L780.8 952.4 L782.1 950.5 L783.5 948.6 L784.9 946.6 L786.2 944.3 L787.6 941.0 L789.0 936.5 L790.4 931.1 L791.7 924.9 L793.1 918.3 L794.5 911.4 L795.9 904.4 L797.2 897.6 L798.6 891.2 L800.0 885.3 L801.4 879.9 L802.7 874.7 L804.1 869.6 L805.5 864.5 L806.8 859.5 L808.2 854.4 L809.6 849.2 L811.0 844.0 L812.3 838.6 L813.7 833.0 L815.1 827.1 L816.5 820.9 L817.8 814.5 L819.2 808.0 L820.6 801.5 L821.9 794.9 L823.3 788.3 L824.7 781.9 L826.1 775.5 L827.4 769.5 L828.8 763.6 L830.2 758.0 L831.6 752.5 L832.9 747.0 L834.3 741.6 L835.7 736.3 L837.0 731.1 L838.4 725.9 L839.8 720.8 L841.2 715.9 L842.5 711.0 L843.9 706.2 L845.3 701.6 L846.7 697.1 L848.0 692.7 L849.4 688.5 L850.8 684.4 L852.2 680.4 L853.5 676.5 L854.9 672.8 L856.3 669.1 L857.6 665.6 L859.0 662.0 L860.4 658.6 L861.8 655.1 L863.1 651.7 L864.5 648.2 L865.9 644.8 L867.3 641.3 L868.6 637.7 L870.0 634.1 L871.4 630.4 L872.7 626.7 L874.1 623.1 L875.5 619.5 L876.9 616.1 L878.2 612.9 L879.6 610.0 L881.0 607.3 L882.4 604.8 L883.7 602.4 L885.1 600.2 L886.5 598.0 L887.9 595.9 L889.2 593.9 L890.6 592.1 L892.0 590.4 L893.3 588.8 L894.7 587.3 L896.1 585.9 L897.5 584.5 L898.8 583.2 L900.2 581.9 L901.6 580.7 L903.0 579.6 L904.3 578.7 L905.7 577.8 L907.1 577.1 L908.4 576.5 L909.8 576.0 L911.2 575.6 L912.6 575.1 L913.9 574.7 L915.3 574.3 L916.7 574.0 L918.1 573.7 L919.4 573.4 L920.8 573.2 L922.2 573.0 L923.5 572.9 L924.9 572.9 L926.3 572.9 L927.7 572.9 L929.0 572.9 L930.4 572.9 L931.8 572.8 L933.2 572.8 L934.5 572.8 L935.9 572.8 L937.3 572.8 L938.7 572.8 L940.0 572.8 L941.4 572.8 L942.8 572.8 L944.1 572.8 L945.5 572.8 L946.9 572.8 L948.3 572.7 L949.6 572.7 L951.0 572.7 L952.4 572.7 L953.8 572.7 L955.1 572.7 L956.5 572.7 L957.9 572.7 L959.2 572.7 L960.6 572.7 L962.0 572.7 L963.4 572.7 L964.7 572.7 L966.1 572.7 L967.5 572.7 L968.9 572.6 L970.2 572.6 L971.6 572.6 L973.0 572.6 L974.4 572.6 L975.7 572.6 L977.1 572.6 L978.5 572.6 L979.8 572.6 L981.2 572.6 L982.6 572.6 L984.0 572.6 L985.3 572.6 L986.7 572.6 L988.1 572.6 L989.5 572.6 L990.8 572.6 L992.2 572.6 L993.6 572.6 L994.9 572.6 L996.3 572.6 L997.7 572.6 L999.1 572.6 L1000.4 572.6 L1001.8 572.5 L1003.2 572.5 L1004.6 572.5 L1005.9 572.5 L1007.3 572.5 L1008.7 572.5 L1010.0 572.5 L1011.4 572.5 L1012.8 572.5 L1014.2 572.5 L1015.5 572.5 L1016.9 572.5 L1018.3 572.5 L1019.7 572.5 L1021.0 572.5 L1022.4 572.5 L1023.8 572.5 L1025.2 572.5 L1026.5 572.5 L1027.9 572.5 L1029.3 572.5 L1030.6 572.5 L1032.0 572.5 L1033.4 572.5 L1034.8 572.5 L1036.1 572.5 L1037.5 572.5 L1038.9 572.5 L1040.3 572.5 L1041.6 572.5 L1043.0 572.5 L1044.4 572.5 L1045.7 572.5 L1047.1 572.5 L1048.5 572.5 L1049.9 572.5 L1051.2 572.5 L1052.6 572.5 L1054.0 572.5 L1055.4 572.5 L1056.7 572.5 L1058.1 572.5 L1059.5 572.5 L1060.8 572.5 L1062.2 572.6 L1063.6 572.8 L1065.0 573.1 L1066.3 573.6 L1067.7 574.1 L1069.1 574.7 L1070.5 575.4 L1071.8 576.1 L1073.2 577.0 L1074.6 578.1 L1076.0 579.5 L1077.3 581.2 L1078.7 583.1 L1080.1 585.2 L1081.4 587.5 L1082.8 590.0 L1084.2 592.6 L1085.6 595.3 L1086.9 598.5 L1088.3 602.6 L1089.7 607.2 L1091.1 612.4 L1092.4 617.8 L1093.8 623.4 L1095.2 629.0 L1096.5 634.4 L1097.9 639.4 L1099.3 644.0 L1100.7 648.5 L1102.0 653.0 L1103.4 657.3 L1104.8 661.6 L1106.2 665.9 L1107.5 670.1 L1108.9 674.2 L1110.3 678.4 L1111.7 682.5 L1113.0 686.6 L1114.4 690.7 L1115.8 694.8 L1117.1 698.9 L1118.5 703.0 L1119.9 707.2 L1121.3 711.4 L1122.6 715.7 L1124.0 720.0 L1125.4 724.3 L1126.8 728.8 L1128.1 733.3 L1129.5 737.9 L1130.9 742.7 L1132.2 747.6 L1133.6 752.6 L1135.0 757.7 L1136.4 762.7 L1137.7 767.8 L1139.1 772.9 L1140.5 777.9 L1141.9 782.9 L1143.2 787.7 L1144.6 792.4 L1146.0 796.9 L1147.3 801.3 L1148.7 805.5 L1150.1 809.7 L1151.5 813.8 L1152.8 817.8 L1154.2 821.8 L1155.6 825.6 L1157.0 829.4 L1158.3 833.0 L1159.7 836.6 L1161.1 840.0 L1162.5 843.3 L1163.8 846.5 L1165.2 849.7 L1166.6 852.8 L1167.9 855.8 L1169.3 858.8 L1170.7 861.7 L1172.1 864.5 L1173.4 867.3 L1174.8 870.0 L1176.2 872.6 L1177.6 875.1 L1178.9 877.6 L1180.3 879.9 L1181.7 882.2 L1183.0 884.4 L1184.4 886.7 L1185.8 888.9 L1187.2 891.0 L1188.5 893.2 L1189.9 895.3 L1191.3 897.4 L1192.7 899.4 L1194.0 901.3 L1195.4 903.2 L1196.8 905.1 L1198.1 906.9 L1199.5 908.6 L1200.9 910.3 L1202.3 911.8 L1203.6 913.3 L1205.0 914.8 L1206.4 916.1 L1207.8 917.3 L1209.1 918.5 L1210.5 919.6 L1211.9 920.7 L1213.3 921.8 L1214.6 922.8 L1216.0 923.8 L1217.4 924.8 L1218.7 925.7 L1220.1 926.7 L1221.5 927.5 L1222.9 928.4 L1224.2 929.2 L1225.6 930.0 L1227.0 930.8 L1228.4 931.5 L1229.7 932.2 L1231.1 932.9 L1232.5 933.5 L1233.8 934.2 L1235.2 934.7 L1236.6 935.3 L1238.0 935.8 L1239.3 936.4 L1240.7 936.9 L1242.1 937.4 L1243.5 937.9 L1244.8 938.4 L1246.2 938.9 L1247.6 939.3 L1249.0 939.8 L1250.3 940.2 L1251.7 940.6 L1253.1 941.0 L1254.4 941.4 L1255.8 941.7 L1257.2 942.0 L1258.6 942.3 L1259.9 942.5 L1261.3 942.7 L1262.7 942.9 L1264.1 943.1 L1265.4 943.2 L1266.8 943.4 L1268.2 943.5 L1269.5 943.6 L1270.9 943.8 L1272.3 943.9 L1273.7 944.0 L1275.0 944.1 L1276.4 944.2 L1277.8 944.3 L1279.2 944.4 L1280.5 944.5 L1281.9 944.6 L1283.3 944.6 L1284.6 944.7 L1286.0 944.8 L1287.4 944.8 L1288.8 944.9 L1290.1 944.9 L1291.5 944.9 L1292.9 945.0 L1294.3 945.0 L1295.6 945.0 L1297.0 945.1 L1298.4 945.1 L1299.8 945.1 L1301.1 945.1 L1302.5 945.2 L1303.9 945.2 L1305.2 945.2 L1306.6 945.2 L1308.0 945.2 L1309.4 945.3 L1310.7 945.3 L1312.1 945.3 L1313.5 945.3 L1314.9 945.3 L1316.2 945.3 L1317.6 945.3"/></g>
<g stroke="#222" stroke-width="1.5" fill="none"><path d="M809.6 923.7V963.7M804.6 923.7H814.6M804.6 963.7H814.6"/><path d="M823.3 816.5V848.5M818.3 816.5H828.3M818.3 848.5H828.3"/><path d="M837.0 766.9V782.9M832.0 766.9H842.0M832.0 782.9H842.0"/><path d="M850.8 645.3V669.3M845.8 645.3H855.8M845.8 669.3H855.8"/><path d="M864.5 587.7V603.7M859.5 587.7H869.5M859.5 603.7H869.5"/><path d="M878.2 581.3V597.3M873.2 581.3H883.2M873.2 597.3H883.2"/><path d="M892.0 557.3V573.3M887.0 557.3H897.0M887.0 573.3H897.0"/><path d="M905.7 560.1V576.1M900.7 560.1H910.7M900.7 576.1H910.7"/><path d="M933.2 559.3V571.3M928.2 559.3H938.2M928.2 571.3H938.2"/><path d="M960.6 554.9V570.9M955.6 554.9H965.6M955.6 570.9H965.6"/><path d="M988.1 563.3V575.3M983.1 563.3H993.1M983.1 575.3H993.1"/><path d="M1015.5 559.3V571.3M1010.5 559.3H1020.5M1010.5 571.3H1020.5"/><path d="M1043.0 554.5V570.5M1038.0 554.5H1048.0M1038.0 570.5H1048.0"/><path d="M1070.5 553.3V569.3M1065.5 553.3H1075.5M1065.5 569.3H1075.5"/><path d="M1097.9 606.5V646.5M1092.9 606.5H1102.9M1092.9 646.5H1102.9"/><path d="M1125.4 775.7V791.7M1120.4 775.7H1130.4M1120.4 791.7H1130.4"/><path d="M1152.8 821.3V829.3M1147.8 821.3H1157.8M1147.8 829.3H1157.8"/><path d="M1180.3 874.9V890.9M1175.3 874.9H1185.3M1175.3 890.9H1185.3"/><path d="M1207.8 906.5V914.5M1202.8 906.5H1212.8M1202.8 914.5H1212.8"/><path d="M1235.2 912.1V920.1M1230.2 912.1H1240.2M1230.2 920.1H1240.2"/><path d="M1262.7 919.7V927.7M1257.7 919.7H1267.7M1257.7 927.7H1267.7"/><path d="M1290.1 924.1V932.1M1285.1 924.1H1295.1M1285.1 932.1H1295.1"/><path d="M1317.6 926.1V930.1M1312.6 926.1H1322.6M1312.6 930.1H1322.6"/><path d="M795.9 797.3V885.3M790.9 797.3H800.9M790.9 885.3H800.9"/><path d="M809.6 796.1V824.1M804.6 796.1H814.6M804.6 824.1H814.6"/><path d="M823.3 714.5V746.5M818.3 714.5H828.3M818.3 746.5H828.3"/><path d="M837.0 682.5V698.5M832.0 682.5H842.0M832.0 698.5H842.0"/><path d="M850.8 658.5V674.5M845.8 658.5H855.8M845.8 674.5H855.8"/><path d="M864.5 612.1V620.1M859.5 612.1H869.5M859.5 620.1H869.5"/><path d="M878.2 568.5V584.5M873.2 568.5H883.2M873.2 584.5H883.2"/><path d="M892.0 565.3V581.3M887.0 565.3H897.0M887.0 581.3H897.0"/><path d="M905.7 563.3V579.3M900.7 563.3H910.7M900.7 579.3H910.7"/><path d="M933.2 563.3V579.3M928.2 563.3H938.2M928.2 579.3H938.2"/><path d="M960.6 560.1V576.1M955.6 560.1H965.6M955.6 576.1H965.6"/><path d="M988.1 562.5V578.5M983.1 562.5H993.1M983.1 578.5H993.1"/><path d="M1015.5 561.3V577.3M1010.5 561.3H1020.5M1010.5 577.3H1020.5"/><path d="M1043.0 559.3V575.3M1038.0 559.3H1048.0M1038.0 575.3H1048.0"/><path d="M1070.5 537.3V569.3M1065.5 537.3H1075.5M1065.5 569.3H1075.5"/><path d="M1097.9 616.9V656.9M1092.9 616.9H1102.9M1092.9 656.9H1102.9"/><path d="M1125.4 726.1V742.1M1120.4 726.1H1130.4M1120.4 742.1H1130.4"/><path d="M1152.8 792.9V808.9M1147.8 792.9H1157.8M1147.8 808.9H1157.8"/><path d="M1180.3 792.5V816.5M1175.3 792.5H1185.3M1175.3 816.5H1185.3"/><path d="M1207.8 873.7V881.7M1202.8 873.7H1212.8M1202.8 881.7H1212.8"/><path d="M1235.2 902.9V910.9M1230.2 902.9H1240.2M1230.2 910.9H1240.2"/><path d="M1262.7 925.3V933.3M1257.7 925.3H1267.7M1257.7 933.3H1267.7"/><path d="M1290.1 921.9V929.9M1285.1 921.9H1295.1M1285.1 929.9H1295.1"/><path d="M1317.6 924.1V932.1M1312.6 924.1H1322.6M1312.6 932.1H1322.6"/><path d="M795.9 937.3V945.3M790.9 937.3H800.9M790.9 945.3H800.9"/><path d="M809.6 892.1V908.1M804.6 892.1H814.6M804.6 908.1H814.6"/><path d="M823.3 794.9V818.9M818.3 794.9H828.3M818.3 818.9H828.3"/><path d="M837.0 750.1V766.1M832.0 750.1H842.0M832.0 766.1H842.0"/><path d="M850.8 699.3V723.3M845.8 699.3H855.8M845.8 723.3H855.8"/><path d="M864.5 622.5V646.5M859.5 622.5H869.5M859.5 646.5H869.5"/><path d="M878.2 571.3V587.3M873.2 571.3H883.2M873.2 587.3H883.2"/><path d="M892.0 558.1V574.1M887.0 558.1H897.0M887.0 574.1H897.0"/><path d="M905.7 560.1V576.1M900.7 560.1H910.7M900.7 576.1H910.7"/><path d="M933.2 563.7V579.7M928.2 563.7H938.2M928.2 579.7H938.2"/><path d="M960.6 567.3V583.3M955.6 567.3H965.6M955.6 583.3H965.6"/><path d="M988.1 565.3V581.3M983.1 565.3H993.1M983.1 581.3H993.1"/><path d="M1015.5 563.7V579.7M1010.5 563.7H1020.5M1010.5 579.7H1020.5"/><path d="M1043.0 563.7V579.7M1038.0 563.7H1048.0M1038.0 579.7H1048.0"/><path d="M1070.5 562.5V578.5M1065.5 562.5H1075.5M1065.5 578.5H1075.5"/><path d="M1097.9 607.3V655.3M1092.9 607.3H1102.9M1092.9 655.3H1102.9"/><path d="M1125.4 690.9V706.9M1120.4 690.9H1130.4M1120.4 706.9H1130.4"/><path d="M1152.8 733.3V741.3M1147.8 733.3H1157.8M1147.8 741.3H1157.8"/><path d="M1180.3 838.9V846.9M1175.3 838.9H1185.3M1175.3 846.9H1185.3"/><path d="M1207.8 891.7V899.7M1202.8 891.7H1212.8M1202.8 899.7H1212.8"/><path d="M1235.2 894.1V902.1M1230.2 894.1H1240.2M1230.2 902.1H1240.2"/><path d="M1262.7 897.3V905.3M1257.7 897.3H1267.7M1257.7 905.3H1267.7"/><path d="M1290.1 908.5V916.5M1285.1 908.5H1295.1M1285.1 916.5H1295.1"/><path d="M1317.6 904.9V912.9M1312.6 904.9H1322.6M1312.6 912.9H1322.6"/></g>
<g><circle cx="782.1" cy="949.3" r="7.0" fill="#fff" stroke="#000" stroke-width="2.2"/><circle cx="795.9" cy="948.1" r="7.0" fill="#fff" stroke="#000" stroke-width="2.2"/><circle cx="809.6" cy="943.7" r="7.0" fill="#fff" stroke="#000" stroke-width="2.2"/><circle cx="823.3" cy="832.5" r="7.0" fill="#fff" stroke="#000" stroke-width="2.2"/><circle cx="837.0" cy="774.9" r="7.0" fill="#fff" stroke="#000" stroke-width="2.2"/><circle cx="850.8" cy="657.3" r="7.0" fill="#fff" stroke="#000" stroke-width="2.2"/><circle cx="864.5" cy="595.7" r="7.0" fill="#fff" stroke="#000" stroke-width="2.2"/><circle cx="878.2" cy="589.3" r="7.0" fill="#fff" stroke="#000" stroke-width="2.2"/><circle cx="892.0" cy="565.3" r="7.0" fill="#fff" stroke="#000" stroke-width="2.2"/><circle cx="905.7" cy="568.1" r="7.0" fill="#fff" stroke="#000" stroke-width="2.2"/><circle cx="933.2" cy="565.3" r="7.0" fill="#fff" stroke="#000" stroke-width="2.2"/><circle cx="960.6" cy="562.9" r="7.0" fill="#fff" stroke="#000" stroke-width="2.2"/><circle cx="988.1" cy="569.3" r="7.0" fill="#fff" stroke="#000" stroke-width="2.2"/><circle cx="1015.5" cy="565.3" r="7.0" fill="#fff" stroke="#000" stroke-width="2.2"/><circle cx="1043.0" cy="562.5" r="7.0" fill="#fff" stroke="#000" stroke-width="2.2"/><circle cx="1070.5" cy="561.3" r="7.0" fill="#fff" stroke="#000" stroke-width="2.2"/><circle cx="1097.9" cy="626.5" r="7.0" fill="#fff" stroke="#000" stroke-width="2.2"/><circle cx="1125.4" cy="783.7" r="7.0" fill="#fff" stroke="#000" stroke-width="2.2"/><circle cx="1152.8" cy="825.3" r="7.0" fill="#fff" stroke="#000" stroke-width="2.2"/><circle cx="1180.3" cy="882.9" r="7.0" fill="#fff" stroke="#000" stroke-width="2.2"/><circle cx="1207.8" cy="910.5" r="7.0" fill="#fff" stroke="#000" stroke-width="2.2"/><circle cx="1235.2" cy="916.1" r="7.0" fill="#fff" stroke="#000" stroke-width="2.2"/><circle cx="1262.7" cy="923.7" r="7.0" fill="#fff" stroke="#000" stroke-width="2.2"/><circle cx="1290.1" cy="928.1" r="7.0" fill="#fff" stroke="#000" stroke-width="2.2"/><circle cx="1317.6" cy="928.1" r="7.0" fill="#fff" stroke="#000" stroke-width="2.2"/><circle cx="782.1" cy="952.9" r="8.2" fill="#000"/><circle cx="795.9" cy="841.3" r="8.2" fill="#000"/><circle cx="809.6" cy="810.1" r="8.2" fill="#000"/><circle cx="823.3" cy="730.5" r="8.2" fill="#000"/><circle cx="837.0" cy="690.5" r="8.2" fill="#000"/><circle cx="850.8" cy="666.5" r="8.2" fill="#000"/><circle cx="864.5" cy="616.1" r="8.2" fill="#000"/><circle cx="878.2" cy="576.5" r="8.2" fill="#000"/><circle cx="892.0" cy="573.3" r="8.2" fill="#000"/><circle cx="905.7" cy="571.3" r="8.2" fill="#000"/><circle cx="933.2" cy="571.3" r="8.2" fill="#000"/><circle cx="960.6" cy="568.1" r="8.2" fill="#000"/><circle cx="988.1" cy="570.5" r="8.2" fill="#000"/><circle cx="1015.5" cy="569.3" r="8.2" fill="#000"/><circle cx="1043.0" cy="567.3" r="8.2" fill="#000"/><circle cx="1070.5" cy="553.3" r="8.2" fill="#000"/><circle cx="1097.9" cy="636.9" r="8.2" fill="#000"/><circle cx="1125.4" cy="734.1" r="8.2" fill="#000"/><circle cx="1152.8" cy="800.9" r="8.2" fill="#000"/><circle cx="1180.3" cy="804.5" r="8.2" fill="#000"/><circle cx="1207.8" cy="877.7" r="8.2" fill="#000"/><circle cx="1235.2" cy="906.9" r="8.2" fill="#000"/><circle cx="1262.7" cy="929.3" r="8.2" fill="#000"/><circle cx="1290.1" cy="925.9" r="8.2" fill="#000"/><circle cx="1317.6" cy="928.1" r="8.2" fill="#000"/><path d="M782.1 941.5L773.5 956.7L790.7 956.7Z" fill="#fff" stroke="#000" stroke-width="2.1" stroke-linejoin="miter"/><path d="M795.9 932.3L787.3 947.5L804.5 947.5Z" fill="#fff" stroke="#000" stroke-width="2.1" stroke-linejoin="miter"/><path d="M809.6 891.1L801.0 906.3L818.2 906.3Z" fill="#fff" stroke="#000" stroke-width="2.1" stroke-linejoin="miter"/><path d="M823.3 797.9L814.7 813.1L831.9 813.1Z" fill="#fff" stroke="#000" stroke-width="2.1" stroke-linejoin="miter"/><path d="M837.0 749.1L828.4 764.3L845.6 764.3Z" fill="#fff" stroke="#000" stroke-width="2.1" stroke-linejoin="miter"/><path d="M850.8 702.3L842.2 717.5L859.4 717.5Z" fill="#fff" stroke="#000" stroke-width="2.1" stroke-linejoin="miter"/><path d="M864.5 625.5L855.9 640.7L873.1 640.7Z" fill="#fff" stroke="#000" stroke-width="2.1" stroke-linejoin="miter"/><path d="M878.2 570.3L869.6 585.5L886.8 585.5Z" fill="#fff" stroke="#000" stroke-width="2.1" stroke-linejoin="miter"/><path d="M892.0 557.1L883.4 572.3L900.6 572.3Z" fill="#fff" stroke="#000" stroke-width="2.1" stroke-linejoin="miter"/><path d="M905.7 559.1L897.1 574.3L914.3 574.3Z" fill="#fff" stroke="#000" stroke-width="2.1" stroke-linejoin="miter"/><path d="M933.2 562.7L924.6 577.9L941.8 577.9Z" fill="#fff" stroke="#000" stroke-width="2.1" stroke-linejoin="miter"/><path d="M960.6 566.3L952.0 581.5L969.2 581.5Z" fill="#fff" stroke="#000" stroke-width="2.1" stroke-linejoin="miter"/><path d="M988.1 564.3L979.5 579.5L996.7 579.5Z" fill="#fff" stroke="#000" stroke-width="2.1" stroke-linejoin="miter"/><path d="M1015.5 562.7L1006.9 577.9L1024.1 577.9Z" fill="#fff" stroke="#000" stroke-width="2.1" stroke-linejoin="miter"/><path d="M1043.0 562.7L1034.4 577.9L1051.6 577.9Z" fill="#fff" stroke="#000" stroke-width="2.1" stroke-linejoin="miter"/><path d="M1070.5 561.5L1061.9 576.7L1079.1 576.7Z" fill="#fff" stroke="#000" stroke-width="2.1" stroke-linejoin="miter"/><path d="M1097.9 622.3L1089.3 637.5L1106.5 637.5Z" fill="#fff" stroke="#000" stroke-width="2.1" stroke-linejoin="miter"/><path d="M1125.4 689.9L1116.8 705.1L1134.0 705.1Z" fill="#fff" stroke="#000" stroke-width="2.1" stroke-linejoin="miter"/><path d="M1152.8 728.3L1144.2 743.5L1161.4 743.5Z" fill="#fff" stroke="#000" stroke-width="2.1" stroke-linejoin="miter"/><path d="M1180.3 833.9L1171.7 849.1L1188.9 849.1Z" fill="#fff" stroke="#000" stroke-width="2.1" stroke-linejoin="miter"/><path d="M1207.8 886.7L1199.2 901.9L1216.4 901.9Z" fill="#fff" stroke="#000" stroke-width="2.1" stroke-linejoin="miter"/><path d="M1235.2 889.1L1226.6 904.3L1243.8 904.3Z" fill="#fff" stroke="#000" stroke-width="2.1" stroke-linejoin="miter"/><path d="M1262.7 892.3L1254.1 907.5L1271.3 907.5Z" fill="#fff" stroke="#000" stroke-width="2.1" stroke-linejoin="miter"/><path d="M1290.1 903.5L1281.5 918.7L1298.7 918.7Z" fill="#fff" stroke="#000" stroke-width="2.1" stroke-linejoin="miter"/><path d="M1317.6 899.9L1309.0 915.1L1326.2 915.1Z" fill="#fff" stroke="#000" stroke-width="2.1" stroke-linejoin="miter"/></g>
<g font-family='"Liberation Serif", serif' fill="#000"><text x="520.8" y="46.1" font-size="34.5">25</text><circle cx="561.9" cy="26.0" r="2.2" fill="none" stroke="#000" stroke-width="1.3"/><text transform="translate(565.3 46.1) scale(0.927 1)" x="-1.3" y="0" font-size="33.5">C</text><text x="603.0" y="46.4" font-size="38.0">soil</text><text x="1169.0" y="55.6" font-size="35.5">25</text><circle cx="1211.6" cy="35.6" r="2.2" fill="none" stroke="#000" stroke-width="1.3"/><text transform="translate(1214.1 55.6) scale(0.922 1)" x="-1.4" y="0" font-size="35.0">C</text><text x="1256.3" y="55.6" font-size="35.3">sand</text><text x="525.0" y="573.5" font-size="39.0">4</text><circle cx="550.8" cy="551.5" r="2.5" fill="none" stroke="#000" stroke-width="1.3"/><text transform="translate(554.6 573.5) scale(0.928 1)" x="-1.5" y="0" font-size="38.0">C</text><text x="596.5" y="573.5" font-size="37.5">soil</text><text x="1185.8" y="569.1" font-size="39.0">4</text><circle cx="1211.7" cy="547.4" r="2.7" fill="none" stroke="#000" stroke-width="1.3"/><text transform="translate(1214.9 569.1) scale(0.937 1)" x="-1.5" y="0" font-size="38.0">C</text><text x="1257.4" y="569.1" font-size="37.4">sand</text></g>
<g font-family='"Liberation Serif", serif' fill="#000"><circle cx="527.5" cy="82.9" r="6.6" fill="#fff" stroke="#000" stroke-width="1.8"/><text x="561" y="90.8" font-size="30">Mode 1</text><circle cx="527.5" cy="120.8" r="7.5" fill="#000"/><text x="561" y="128.2" font-size="30">Mode 2</text><path d="M527.5 150.5L520.1 164.1L534.9 164.1Z" fill="#fff" stroke="#000" stroke-width="1.8"/><text x="561" y="166.3" font-size="30">Mode 3</text><rect x="520.8" y="190.0" width="13.4" height="13.4" fill="#000"/><text x="561" y="203.9" font-size="30">Mode 4</text><path d="M502.2 226.8H557" stroke="#000" stroke-width="2"/><text x="564.3" y="234.6" font-size="30">Model</text></g>
<g font-family='"Liberation Sans", sans-serif' font-weight="bold" font-size="34.5" fill="#000"><text x="12.0" y="34.7">A</text><text x="687.7" y="34.7">B</text><text x="12.8" y="552.1">C</text><text x="687.7" y="552.1">D</text></g>
<g font-family='"Liberation Serif", serif' font-weight="bold" font-size="33" fill="#000"><text transform="translate(29.1 240.6) rotate(-90)" text-anchor="middle">C/C<tspan dy="10.5">0</tspan></text><text transform="translate(30.9 754.8) rotate(-90)" text-anchor="middle">C/C<tspan dy="10.5">0</tspan></text><text x="368.0" y="1030.8" text-anchor="middle" font-size="32.4">Pore Volume</text><text x="1038.0" y="1030.8" text-anchor="middle" font-size="32.4">Pore Volume</text></g>
</svg></body></html>
